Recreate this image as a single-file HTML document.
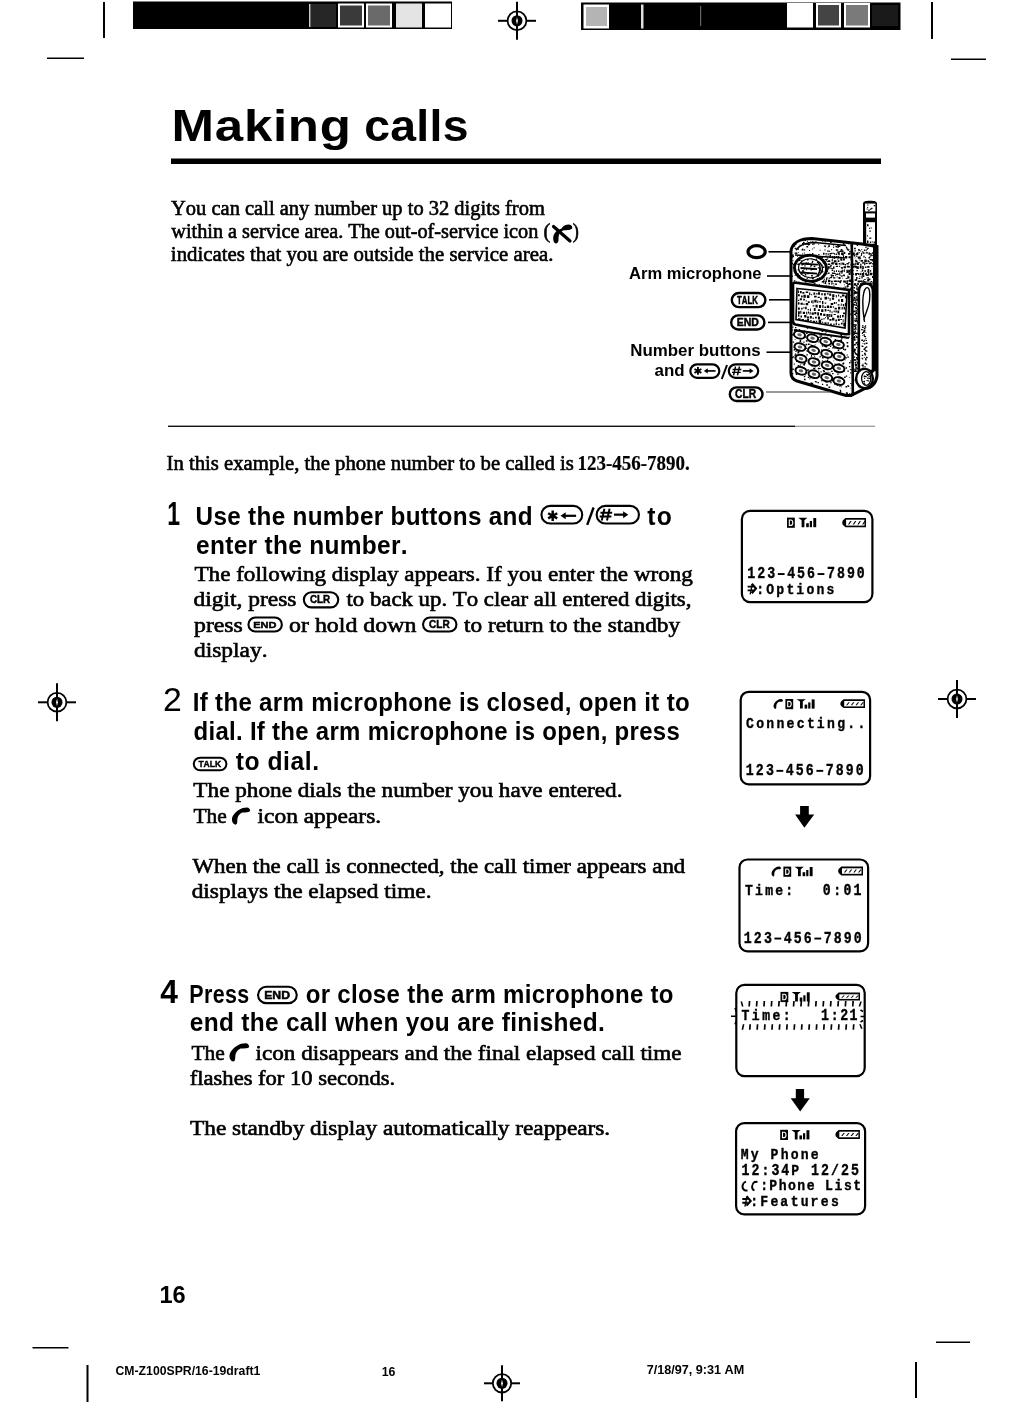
<!DOCTYPE html>
<html><head><meta charset="utf-8"><style>
html,body{margin:0;padding:0;background:#fff;}
svg{display:block;font-kerning:none;will-change:transform;}
text{fill:#000;}
</style></head><body>
<svg width="1028" height="1402" viewBox="0 0 1028 1402">
<rect width="1028" height="1402" fill="#fff"/>
<g stroke="#000" fill="none"><line x1="498" y1="20.8" x2="507.5" y2="20.8" stroke-width="2"/><line x1="526.5" y1="20.8" x2="536" y2="20.8" stroke-width="2"/><line x1="517" y1="1.8000000000000007" x2="517" y2="39.8" stroke-width="2"/><circle cx="517" cy="20.8" r="9.4" stroke-width="1.8" fill="none"/><ellipse cx="517" cy="20.8" rx="5.5" ry="5.6" fill="#000" stroke="none"/><path d="M 517 17.2 L 517.9 20.8 L 517 24.400000000000002 L 516.1 20.8 Z" fill="#fff" stroke="none"/></g>
<g stroke="#000" fill="none"><line x1="38" y1="702.3" x2="47.5" y2="702.3" stroke-width="2"/><line x1="66.5" y1="702.3" x2="76" y2="702.3" stroke-width="2"/><line x1="57" y1="683.3" x2="57" y2="721.3" stroke-width="2"/><circle cx="57" cy="702.3" r="9.4" stroke-width="1.8" fill="none"/><ellipse cx="57" cy="702.3" rx="5.5" ry="5.6" fill="#000" stroke="none"/><path d="M 57 698.6999999999999 L 57.9 702.3 L 57 705.9 L 56.1 702.3 Z" fill="#fff" stroke="none"/></g>
<g stroke="#000" fill="none"><line x1="938" y1="699" x2="947.5" y2="699" stroke-width="2"/><line x1="966.5" y1="699" x2="976" y2="699" stroke-width="2"/><line x1="957" y1="680" x2="957" y2="718" stroke-width="2"/><circle cx="957" cy="699" r="9.4" stroke-width="1.8" fill="none"/><ellipse cx="957" cy="699" rx="5.5" ry="5.6" fill="#000" stroke="none"/><path d="M 957 695.4 L 957.9 699 L 957 702.6 L 956.1 699 Z" fill="#fff" stroke="none"/></g>
<g stroke="#000" fill="none"><line x1="484" y1="1383.3" x2="492.7" y2="1383.3" stroke-width="2"/><line x1="511.3" y1="1383.3" x2="520" y2="1383.3" stroke-width="2"/><line x1="502" y1="1365.3" x2="502" y2="1401.3" stroke-width="2"/><circle cx="502" cy="1383.3" r="9.200000000000001" stroke-width="1.8" fill="none"/><ellipse cx="502" cy="1383.3" rx="5.5" ry="5.6" fill="#000" stroke="none"/><path d="M 502 1379.7 L 502.9 1383.3 L 502 1386.8999999999999 L 501.1 1383.3 Z" fill="#fff" stroke="none"/></g>
<g fill="#000">
<rect x="103" y="2" width="2" height="36"/>
<rect x="47" y="57.5" width="37" height="1.5"/>
<rect x="931" y="2" width="2" height="37"/>
<rect x="951" y="58.5" width="35" height="1.5"/>
<rect x="32.5" y="1347" width="36" height="1.5"/>
<rect x="86.5" y="1365" width="2" height="37"/>
<rect x="936" y="1341.5" width="34" height="1.5"/>
<rect x="915" y="1362" width="2" height="36"/>
</g>
<rect x="133" y="1.5" width="319" height="27.5" fill="#000"/>
<rect x="309" y="4" width="1.5" height="23" fill="#ccc"/>
<rect x="311" y="4" width="25" height="23" fill="#262626"/>
<rect x="338" y="3.5" width="26" height="24" fill="#fff"/>
<rect x="340" y="5.5" width="22" height="20" fill="#3a3a3a"/>
<rect x="366" y="3.5" width="26" height="24" fill="#fff"/>
<rect x="368" y="5.5" width="22" height="20" fill="#6a6a6a"/>
<rect x="396" y="3.5" width="26" height="24" fill="#e4e4e4"/>
<rect x="425" y="3.5" width="26" height="24" fill="#fff"/>
<rect x="581" y="2.5" width="319.5" height="27.5" fill="#000"/>
<rect x="583.5" y="4.5" width="25.5" height="24" fill="#fff"/>
<rect x="586" y="7" width="21" height="19" fill="#b4b4b4"/>
<rect x="641" y="4.5" width="2.5" height="24" fill="#ddd"/>
<rect x="700" y="6" width="1.2" height="20" fill="#666"/>
<rect x="787" y="3" width="26" height="24.5" fill="#fff"/>
<rect x="816" y="3" width="25" height="24.5" fill="#fff"/>
<rect x="818" y="5" width="21" height="20.5" fill="#444"/>
<rect x="844" y="3" width="26" height="24.5" fill="#fff"/>
<rect x="846" y="5" width="22" height="20.5" fill="#7a7a7a"/>
<rect x="872" y="5" width="26" height="21" fill="#1a1a1a"/>
<text x="146.66 183.59 208.45 233.32 246.04 273.29" y="141.00" transform="scale(1.17,1)" font-family="Liberation Sans" font-weight="bold" font-size="43.6" >Making</text>
<text x="342.50 367.03 391.56 403.96 416.35" y="141.00" transform="scale(1.0633259440181022,1)" font-family="Liberation Sans" font-weight="bold" font-size="43.6" >calls</text>
<rect x="171" y="158.5" width="710" height="5.5" fill="#000"/>
<text x="171.07" y="214.90" font-family="Liberation Serif" font-weight="normal" font-size="20.5" textLength="373.75" lengthAdjust="spacingAndGlyphs" stroke="#000" stroke-width="0.6">You can call any number up to 32 digits from</text>
<text x="171.28" y="237.80" font-family="Liberation Serif" font-weight="normal" font-size="20.5" textLength="378.87" lengthAdjust="spacingAndGlyphs" stroke="#000" stroke-width="0.6">within a service area. The out-of-service icon (</text>
<text x="572.71" y="237.80" font-family="Liberation Serif" font-weight="normal" font-size="20.5" textLength="6.09" lengthAdjust="spacingAndGlyphs" stroke="#000" stroke-width="0.6">)</text>
<text x="170.86" y="260.70" font-family="Liberation Serif" font-weight="normal" font-size="20.5" textLength="382.51" lengthAdjust="spacingAndGlyphs" stroke="#000" stroke-width="0.6">indicates that you are outside the service area.</text>
<rect x="168" y="425.6" width="627" height="1.4" fill="#111"/>
<rect x="795" y="425.7" width="80" height="1.1" fill="#888"/>
<text x="166.55" y="469.80" font-family="Liberation Serif" font-weight="normal" font-size="20.5" textLength="407.20" lengthAdjust="spacingAndGlyphs" stroke="#000" stroke-width="0.6">In this example, the phone number to be called is</text>
<text x="577.48" y="469.80" font-family="Liberation Serif" font-weight="bold" font-size="20.5" textLength="112.15" lengthAdjust="spacingAndGlyphs" stroke="#000" stroke-width="0.2">123-456-7890.</text>
<text x="167.35" y="525.20" font-family="Liberation Sans" font-weight="bold" font-size="32.5" textLength="12.79" lengthAdjust="spacingAndGlyphs" >1</text>
<text x="202.69 221.20 235.53 249.85 257.16 265.87 281.57 295.90 303.21 318.91 334.62 357.34 373.04 387.37 397.48 404.80 420.50 436.20 444.91 453.61 469.31 485.02 499.34 506.66 520.98 536.69" y="524.70" transform="scale(0.9647192573933167,1)" font-family="Liberation Sans" font-weight="bold" font-size="25.2" >Use the number buttons and</text>
<path d="M 593.6 507.5 L 587.2 524.8" stroke="#000" stroke-width="2.4"/>
<text x="660.41 670.29" y="524.70" transform="scale(0.98,1)" font-family="Liberation Sans" font-weight="bold" font-size="25.2" >to</text>
<text x="201.72 216.05 231.75 240.45 254.77 264.89 272.20 280.90 296.60 310.92 318.23 333.94 349.64 372.35 388.05 402.38 412.49" y="554.30" transform="scale(0.9718494722008425,1)" font-family="Liberation Sans" font-weight="bold" font-size="25.2" >enter the number.</text>
<text x="194.48" y="581.40" font-family="Liberation Serif" font-weight="normal" font-size="20.5" textLength="498.46" lengthAdjust="spacingAndGlyphs" stroke="#000" stroke-width="0.6">The following display appears. If you enter the wrong</text>
<text x="193.55" y="606.20" font-family="Liberation Serif" font-weight="normal" font-size="20.5" textLength="102.89" lengthAdjust="spacingAndGlyphs" stroke="#000" stroke-width="0.6">digit, press</text>
<text x="346.48" y="606.20" font-family="Liberation Serif" font-weight="normal" font-size="20.5" textLength="344.96" lengthAdjust="spacingAndGlyphs" stroke="#000" stroke-width="0.6">to back up. To clear all entered digits,</text>
<text x="194.02" y="632.00" font-family="Liberation Serif" font-weight="normal" font-size="20.5" textLength="48.84" lengthAdjust="spacingAndGlyphs" stroke="#000" stroke-width="0.6">press</text>
<text x="289.09" y="632.00" font-family="Liberation Serif" font-weight="normal" font-size="20.5" textLength="127.27" lengthAdjust="spacingAndGlyphs" stroke="#000" stroke-width="0.6">or hold down</text>
<text x="464.07" y="632.00" font-family="Liberation Serif" font-weight="normal" font-size="20.5" textLength="216.02" lengthAdjust="spacingAndGlyphs" stroke="#000" stroke-width="0.6">to return to the standby</text>
<text x="194.05" y="656.80" font-family="Liberation Serif" font-weight="normal" font-size="20.5" textLength="73.49" lengthAdjust="spacingAndGlyphs" stroke="#000" stroke-width="0.6">display.</text>
<text x="163.00" y="710.60" font-family="Liberation Sans" font-weight="normal" font-size="32.5" textLength="18.80" lengthAdjust="spacingAndGlyphs" >2</text>
<text x="201.77 209.09 217.79 225.11 233.81 249.52 263.85 271.17 285.49 295.62 318.34 325.65 348.37 355.69 370.02 380.14 395.85 411.55 427.26 442.97 458.67 473.00 480.32 487.63 501.96 509.28 523.61 530.92 546.63 560.96 575.29 590.99 598.31 605.63 621.33 637.04 651.37 667.08 674.39 681.71 690.41 697.73 706.43" y="710.60" transform="scale(0.955479940251514,1)" font-family="Liberation Sans" font-weight="bold" font-size="25.2" >If the arm microphone is closed, open it to</text>
<text x="203.56 219.27 226.59 240.92 248.23 255.55 262.87 270.19 278.89 286.21 294.92 310.63 324.96 332.27 346.60 356.73 379.45 386.77 409.49 416.80 431.14 441.26 456.97 472.68 488.38 504.09 519.80 534.13 541.45 548.77 563.10 570.41 586.12 601.83 616.16 631.87 639.19 646.50 662.21 672.34 686.67 701.00" y="740.00" transform="scale(0.9506593364224852,1)" font-family="Liberation Sans" font-weight="bold" font-size="25.2" >dial. If the arm microphone is open, press</text>
<text x="240.51 249.44 265.38 272.92 288.86 296.41 310.96 318.51" y="769.90" transform="scale(0.98,1)" font-family="Liberation Sans" font-weight="bold" font-size="25.2" >to dial.</text>
<text x="193.38" y="797.00" font-family="Liberation Serif" font-weight="normal" font-size="20.5" textLength="429.15" lengthAdjust="spacingAndGlyphs" stroke="#000" stroke-width="0.6">The phone dials the number you have entered.</text>
<text x="193.41" y="822.50" font-family="Liberation Serif" font-weight="normal" font-size="20.5" textLength="33.23" lengthAdjust="spacingAndGlyphs" stroke="#000" stroke-width="0.6">The</text>
<text x="257.51" y="822.50" font-family="Liberation Serif" font-weight="normal" font-size="20.5" textLength="123.64" lengthAdjust="spacingAndGlyphs" stroke="#000" stroke-width="0.6">icon appears.</text>
<text x="192.48" y="872.50" font-family="Liberation Serif" font-weight="normal" font-size="20.5" textLength="492.80" lengthAdjust="spacingAndGlyphs" stroke="#000" stroke-width="0.6">When the call is connected, the call timer appears and</text>
<text x="191.66" y="897.50" font-family="Liberation Serif" font-weight="normal" font-size="20.5" textLength="239.88" lengthAdjust="spacingAndGlyphs" stroke="#000" stroke-width="0.6">displays the elapsed time.</text>
<text x="160.22" y="1003.20" font-family="Liberation Sans" font-weight="bold" font-size="32.5" textLength="17.65" lengthAdjust="spacingAndGlyphs" >4</text>
<text x="222.18 239.34 249.50 263.87 278.24" y="1003.20" transform="scale(0.852279357970718,1)" font-family="Liberation Sans" font-weight="bold" font-size="25.2" >Press</text>
<text x="320.55 336.26 346.38 353.69 368.02 375.34 391.05 405.38 419.71 427.02 435.73 451.44 465.77 473.08 487.41 497.53 520.25 527.57 550.29 557.61 571.94 582.06 597.77 613.47 629.18 644.89 660.60 674.93 682.24 690.95" y="1003.20" transform="scale(0.9535568857780864,1)" font-family="Liberation Sans" font-weight="bold" font-size="25.2" >or close the arm microphone to</text>
<text x="195.78 210.11 225.81 241.51 248.82 257.52 273.23 287.55 294.86 309.19 323.51 330.82 338.13 345.44 365.35 381.05 395.38 411.08 418.39 432.72 448.42 464.12 471.43 485.76 495.87 510.20 517.51 526.21 533.52 549.22 556.53 570.86 586.56 600.89 616.59" y="1031.25" transform="scale(0.9696805232837525,1)" font-family="Liberation Sans" font-weight="bold" font-size="25.2" >end the call when you are finished.</text>
<text x="191.41" y="1060.00" font-family="Liberation Serif" font-weight="normal" font-size="20.5" textLength="33.23" lengthAdjust="spacingAndGlyphs" stroke="#000" stroke-width="0.6">The</text>
<text x="255.51" y="1060.00" font-family="Liberation Serif" font-weight="normal" font-size="20.5" textLength="426.09" lengthAdjust="spacingAndGlyphs" stroke="#000" stroke-width="0.6">icon disappears and the final elapsed call time</text>
<text x="189.81" y="1085.00" font-family="Liberation Serif" font-weight="normal" font-size="20.5" textLength="205.43" lengthAdjust="spacingAndGlyphs" stroke="#000" stroke-width="0.6">flashes for 10 seconds.</text>
<text x="190.08" y="1135.00" font-family="Liberation Serif" font-weight="normal" font-size="20.5" textLength="420.05" lengthAdjust="spacingAndGlyphs" stroke="#000" stroke-width="0.6">The standby display automatically reappears.</text>
<g>
<path d="M 553.5 226.5 L 570 241" stroke="#000" stroke-width="3.2" stroke-linecap="round"/>
<path d="M 556 243.5 C 553.5 243 553 240 553.3 237 C 553.8 233 557 230 561.5 228.5 C 563 226 566 224.5 569 224.6 C 571.5 224.8 572.5 226.5 572.2 228.3 C 571 230.2 567 230.3 563.5 230.3 C 560.5 231.5 558.7 234 558.6 237 C 558.5 240 559 242.8 556 243.5 Z" fill="#000"/>
</g>
<defs><clipPath id="cpBody"><path d="M 791 373 L 791 251 C 792 243 800 238.5 812 238.5 L 862 244 L 877 246.5 L 877 376 C 876 384 871 388 865 388.5 L 851 395.5 L 846 395.5 L 797 381 C 792.5 379.5 791 377 791 373 Z"/></clipPath><clipPath id="cpEar"><path d="M 822 250 L 876 250 L 876 287 L 822 284 Z"/></clipPath><clipPath id="cpScr"><path d="M 797 288.5 L 847 293.5 L 845 328 L 796 319.5 Z"/></clipPath></defs>
<path d="M 863 249 L 863 204 C 863 201.5 865 200.8 870 200.8 C 875 200.8 877 201.5 877 204 L 877 249 Z" fill="#000"/>
<rect x="865" y="203.6" width="10.4" height="7.8" fill="#fff"/>
<rect x="866" y="213.4" width="9" height="4.2" fill="#fff"/>
<rect x="866.2" y="222.2" width="8.8" height="21.6" fill="#fff"/>
<path d="M867.0 224.3h1.6v2.0h-1.6zM868.9 227.7h1.1v1.0h-1.1zM870.6 227.5h1.2v1.1h-1.2zM869.4 230.4h1.4v1.4h-1.4zM867.0 235.1h0.8v1.4h-0.8zM869.3 237.5h2.0v1.2h-2.0zM867.0 240.6h1.5v2.5h-1.5zM869.9 241.5h1.2v1.4h-1.2zM871.8 241.3h0.9v1.2h-0.9zM873.7 241.6h1.5v1.8h-1.5zM872.4 243.9h2.5v2.5h-2.5z" fill="#000"/>
<path d="M870.0 208.4h1.4v1.3h-1.4zM867.2 204.6h1.2v1.0h-1.2zM868.3 209.4h1.5v1.3h-1.5zM871.1 207.8h1.4v1.3h-1.4zM867.2 207.1h1.0v0.8h-1.0zM873.7 204.9h1.6v1.4h-1.6zM866.6 208.6h1.1v1.0h-1.1z" fill="#000"/>
<path d="M 791 373 L 791 251 C 792 243 800 238.5 812 238.5 L 862 244 L 877 246.5 L 877 376 C 876 384 871 388 865 388.5 L 851 395.5 L 846 395.5 L 797 381 C 792.5 379.5 791 377 791 373 Z" fill="#fff" stroke="#000" stroke-width="3"/>
<path d="M874.0 239.8h1.5v1.3h-1.5zM804.6 393.8h0.8v0.7h-0.8zM866.6 345.7h1.6v1.4h-1.6zM877.0 275.9h1.1v1.0h-1.1zM851.9 282.3h1.1v0.9h-1.1zM810.7 373.5h1.6v1.4h-1.6zM859.6 273.3h1.7v1.5h-1.7zM835.0 274.6h1.2v1.1h-1.2zM827.1 250.5h1.3v1.2h-1.3zM822.0 328.0h1.7v1.5h-1.7zM846.5 302.0h1.6v1.4h-1.6zM876.6 315.5h1.7v1.5h-1.7zM792.6 260.2h1.0v0.8h-1.0zM871.7 347.1h1.5v1.3h-1.5zM815.6 316.2h1.7v1.4h-1.7zM799.6 256.4h0.8v0.7h-0.8zM831.3 370.8h1.3v1.2h-1.3zM825.5 317.3h1.0v0.9h-1.0zM872.5 293.9h1.0v0.9h-1.0zM817.8 368.3h1.1v1.0h-1.1zM868.8 291.1h1.2v1.1h-1.2zM797.4 381.4h1.6v1.4h-1.6zM831.8 256.2h1.3v1.1h-1.3zM823.3 370.7h1.7v1.5h-1.7zM854.7 283.4h0.8v0.7h-0.8zM867.9 387.2h1.0v0.8h-1.0zM834.0 314.0h1.7v1.5h-1.7zM794.7 247.7h1.6v1.4h-1.6zM840.0 311.0h1.5v1.4h-1.5zM842.0 347.4h1.0v0.9h-1.0zM798.3 239.4h1.1v1.0h-1.1zM846.8 298.0h1.1v1.0h-1.1zM844.2 349.4h1.4v1.2h-1.4zM817.8 367.8h1.6v1.4h-1.6zM867.8 379.0h0.8v0.7h-0.8zM848.5 293.0h1.2v1.0h-1.2zM835.6 260.7h1.0v0.9h-1.0zM875.8 290.3h1.7v1.5h-1.7zM849.9 287.7h1.1v1.0h-1.1zM843.0 348.9h1.1v1.0h-1.1zM796.1 265.2h1.6v1.4h-1.6zM853.7 255.1h1.6v1.4h-1.6zM840.5 290.9h1.7v1.5h-1.7zM802.1 253.5h1.1v1.0h-1.1zM854.4 324.5h1.3v1.1h-1.3zM869.0 300.2h1.6v1.4h-1.6zM791.4 361.7h0.9v0.8h-0.9zM847.4 370.5h1.4v1.3h-1.4zM840.8 324.9h1.5v1.3h-1.5zM822.7 274.9h1.3v1.2h-1.3zM835.8 256.4h1.3v1.1h-1.3zM831.2 262.7h1.5v1.3h-1.5zM858.0 291.5h1.6v1.4h-1.6zM875.9 342.6h1.2v1.0h-1.2zM814.4 258.5h1.1v0.9h-1.1zM876.9 247.5h1.7v1.5h-1.7zM851.0 361.9h0.9v0.8h-0.9zM846.6 270.4h1.4v1.3h-1.4zM859.3 352.0h1.3v1.1h-1.3zM867.1 274.2h1.0v0.8h-1.0zM865.4 246.8h1.2v1.1h-1.2zM827.1 376.6h1.2v1.0h-1.2zM840.0 317.2h1.3v1.1h-1.3zM831.7 312.0h1.4v1.2h-1.4zM828.2 304.8h1.7v1.5h-1.7zM875.0 277.0h1.7v1.5h-1.7zM793.0 290.5h1.7v1.5h-1.7zM805.5 343.7h1.8v1.5h-1.8zM843.6 310.6h0.8v0.7h-0.8zM829.8 311.3h1.6v1.4h-1.6zM824.6 365.3h1.2v1.0h-1.2zM845.6 357.9h1.0v0.8h-1.0zM873.0 309.1h1.3v1.1h-1.3zM874.6 328.2h1.3v1.1h-1.3zM809.4 272.8h1.5v1.3h-1.5zM834.5 342.1h1.5v1.3h-1.5zM849.7 289.1h1.6v1.4h-1.6zM829.7 265.8h1.6v1.4h-1.6zM868.5 257.0h1.6v1.4h-1.6zM850.2 280.6h1.4v1.2h-1.4zM870.3 262.0h1.4v1.3h-1.4zM811.7 261.6h1.7v1.5h-1.7zM876.6 341.5h1.6v1.4h-1.6zM825.0 305.7h1.4v1.2h-1.4zM861.0 348.7h1.3v1.1h-1.3zM845.0 301.6h1.6v1.4h-1.6zM865.7 360.2h1.1v1.0h-1.1zM823.8 392.8h1.2v1.0h-1.2zM848.2 253.2h0.9v0.8h-0.9zM810.4 344.3h1.0v0.9h-1.0zM847.5 249.5h1.5v1.3h-1.5zM851.4 278.5h1.0v0.9h-1.0zM812.6 316.0h1.0v0.9h-1.0zM811.2 365.1h1.7v1.5h-1.7zM804.8 320.1h1.4v1.3h-1.4zM872.6 326.4h1.3v1.1h-1.3zM857.4 362.6h1.5v1.3h-1.5zM844.5 366.2h0.8v0.7h-0.8zM857.0 273.1h1.1v1.0h-1.1zM824.9 320.1h1.4v1.2h-1.4zM841.5 288.0h1.1v1.0h-1.1zM847.4 385.1h1.2v1.0h-1.2zM791.7 372.9h1.7v1.4h-1.7zM863.3 338.5h1.2v1.1h-1.2zM796.6 383.5h1.2v1.1h-1.2zM801.5 336.7h0.8v0.7h-0.8zM824.4 333.3h1.6v1.4h-1.6zM821.9 269.0h1.1v1.0h-1.1zM861.6 252.4h0.9v0.8h-0.9zM820.9 388.4h1.6v1.4h-1.6zM874.2 245.6h1.3v1.1h-1.3zM803.5 330.5h1.6v1.4h-1.6zM832.4 347.0h1.5v1.3h-1.5zM834.6 299.6h1.0v0.9h-1.0zM853.0 393.1h1.7v1.5h-1.7zM870.5 372.0h1.4v1.3h-1.4zM833.6 257.1h1.6v1.4h-1.6zM806.8 385.0h1.6v1.4h-1.6zM815.4 381.2h1.5v1.3h-1.5zM860.8 255.1h1.1v0.9h-1.1zM804.3 386.7h1.0v0.9h-1.0zM829.2 356.9h1.2v1.0h-1.2zM845.3 336.7h1.2v1.0h-1.2zM870.7 343.6h1.5v1.3h-1.5zM853.9 335.9h1.0v0.8h-1.0zM869.7 386.9h0.9v0.8h-0.9zM822.6 267.6h0.9v0.8h-0.9zM840.8 306.5h0.9v0.8h-0.9zM832.4 347.9h0.9v0.8h-0.9zM846.6 342.1h1.6v1.4h-1.6zM876.9 377.2h1.2v1.0h-1.2zM798.1 290.7h1.0v0.8h-1.0zM864.3 295.8h1.3v1.2h-1.3zM853.5 310.8h1.8v1.5h-1.8zM847.7 332.2h1.0v0.8h-1.0zM811.7 346.8h1.2v1.1h-1.2zM840.8 376.9h1.4v1.3h-1.4zM863.0 296.0h0.9v0.8h-0.9zM814.8 381.0h1.0v0.9h-1.0zM801.6 248.9h1.8v1.5h-1.8zM809.0 250.1h1.1v1.0h-1.1zM794.7 353.4h1.5v1.3h-1.5zM827.4 352.6h0.8v0.7h-0.8zM859.5 339.5h1.5v1.3h-1.5zM803.3 388.4h1.7v1.5h-1.7zM832.3 288.5h1.3v1.1h-1.3zM851.9 310.9h1.3v1.2h-1.3zM873.0 350.0h1.2v1.0h-1.2zM869.2 362.5h0.8v0.7h-0.8zM833.4 285.6h1.1v1.0h-1.1zM822.8 370.1h1.4v1.2h-1.4zM812.2 248.6h0.9v0.8h-0.9zM823.3 323.6h1.3v1.1h-1.3zM827.7 321.4h1.1v1.0h-1.1zM872.8 272.7h1.2v1.0h-1.2zM847.6 370.5h1.2v1.0h-1.2zM845.6 278.1h0.8v0.7h-0.8zM874.3 248.7h1.5v1.3h-1.5zM793.7 285.3h1.3v1.1h-1.3zM868.3 365.0h1.1v1.0h-1.1zM791.7 357.0h1.5v1.3h-1.5zM871.2 259.0h1.4v1.3h-1.4zM844.1 376.6h1.6v1.4h-1.6zM857.0 372.3h0.9v0.8h-0.9zM875.9 333.4h1.7v1.5h-1.7zM803.9 319.6h1.7v1.4h-1.7zM874.1 334.6h1.7v1.5h-1.7zM793.0 254.5h1.0v0.9h-1.0zM866.2 350.7h1.2v1.1h-1.2zM869.7 319.4h0.9v0.8h-0.9zM872.0 354.7h1.8v1.5h-1.8zM858.2 317.7h1.7v1.5h-1.7zM802.4 239.2h1.1v0.9h-1.1zM872.8 251.9h1.5v1.3h-1.5zM837.3 258.8h1.0v0.9h-1.0zM852.8 299.4h1.6v1.4h-1.6zM795.4 328.9h1.6v1.4h-1.6zM811.5 281.8h1.4v1.2h-1.4zM805.9 340.2h1.7v1.5h-1.7zM818.5 264.9h1.6v1.4h-1.6zM795.6 372.6h1.2v1.1h-1.2zM859.7 297.4h1.7v1.5h-1.7zM847.4 332.2h0.9v0.8h-0.9zM840.9 275.4h1.5v1.3h-1.5zM818.4 274.2h0.9v0.8h-0.9zM812.9 257.7h1.1v0.9h-1.1zM837.2 373.4h1.5v1.4h-1.5zM822.1 384.1h1.1v1.0h-1.1zM827.7 324.2h1.4v1.2h-1.4zM833.4 342.8h1.0v0.9h-1.0zM809.3 291.1h1.2v1.1h-1.2zM812.8 327.8h0.9v0.8h-0.9zM827.4 310.4h1.4v1.2h-1.4zM803.3 341.6h1.2v1.1h-1.2zM870.6 259.8h1.2v1.0h-1.2zM858.3 385.8h1.6v1.4h-1.6zM867.5 307.2h1.0v0.9h-1.0zM813.2 338.4h1.4v1.3h-1.4zM827.5 268.2h1.6v1.4h-1.6zM819.0 275.9h1.6v1.4h-1.6zM857.8 344.1h1.6v1.4h-1.6zM844.3 336.2h1.2v1.0h-1.2zM806.0 385.0h0.9v0.8h-0.9zM857.4 288.2h1.5v1.3h-1.5zM868.3 361.8h0.8v0.7h-0.8zM866.0 274.6h1.1v0.9h-1.1zM875.8 371.1h1.0v0.8h-1.0zM864.2 278.9h1.4v1.2h-1.4zM861.1 249.2h1.0v0.9h-1.0zM801.9 260.6h1.7v1.5h-1.7zM793.7 288.1h1.6v1.4h-1.6zM792.8 310.5h1.6v1.4h-1.6zM869.7 368.0h0.9v0.7h-0.9zM794.5 355.1h1.2v1.1h-1.2zM833.1 345.3h1.6v1.4h-1.6zM814.9 389.6h1.1v1.0h-1.1zM865.9 250.3h0.8v0.7h-0.8zM842.6 356.3h1.4v1.2h-1.4zM796.6 385.2h1.7v1.5h-1.7zM868.7 349.4h0.8v0.7h-0.8zM829.1 267.6h1.0v0.9h-1.0zM832.1 373.0h1.4v1.2h-1.4zM875.2 293.7h0.9v0.8h-0.9zM859.8 377.3h1.3v1.1h-1.3zM811.0 339.1h1.0v0.9h-1.0zM825.4 331.3h1.5v1.3h-1.5zM854.5 253.7h1.2v1.0h-1.2zM835.0 287.1h0.9v0.8h-0.9zM813.4 307.1h1.4v1.2h-1.4zM875.3 270.2h1.3v1.2h-1.3zM809.0 258.8h1.1v0.9h-1.1zM827.5 371.7h1.1v1.0h-1.1zM872.5 361.5h1.2v1.0h-1.2zM866.5 281.1h0.8v0.7h-0.8zM830.4 336.2h1.5v1.3h-1.5zM792.3 240.2h1.5v1.3h-1.5zM870.4 315.6h1.5v1.3h-1.5zM806.1 260.7h1.2v1.1h-1.2zM873.7 256.3h1.3v1.1h-1.3zM850.1 241.6h1.6v1.4h-1.6zM807.7 369.2h1.4v1.2h-1.4zM795.5 271.3h1.2v1.1h-1.2zM795.8 354.6h1.2v1.1h-1.2zM802.2 272.2h1.5v1.3h-1.5zM828.2 321.0h1.0v0.9h-1.0zM814.8 275.2h1.2v1.1h-1.2zM802.9 242.3h1.7v1.5h-1.7zM874.4 244.0h1.7v1.4h-1.7zM816.3 322.6h1.3v1.1h-1.3zM797.8 291.9h1.2v1.1h-1.2zM838.2 323.9h1.1v1.0h-1.1zM835.4 256.7h1.5v1.3h-1.5zM841.7 267.6h1.2v1.1h-1.2zM834.3 316.1h1.0v0.9h-1.0zM832.8 326.2h1.7v1.5h-1.7zM865.2 359.0h1.1v1.0h-1.1zM835.6 289.4h1.4v1.2h-1.4zM858.9 361.8h1.7v1.5h-1.7zM856.8 361.7h1.2v1.1h-1.2zM810.6 297.5h1.3v1.1h-1.3zM832.1 316.7h0.8v0.7h-0.8zM875.3 298.1h1.1v1.0h-1.1zM863.8 299.8h1.5v1.4h-1.5zM799.9 322.0h0.8v0.7h-0.8zM834.4 363.4h1.1v0.9h-1.1zM846.6 354.6h1.2v1.0h-1.2zM806.5 350.3h1.6v1.4h-1.6zM871.7 393.6h1.6v1.4h-1.6zM822.0 357.0h1.6v1.4h-1.6zM829.6 379.4h0.9v0.8h-0.9zM855.1 348.9h1.0v0.9h-1.0zM802.0 345.4h0.9v0.8h-0.9zM817.4 381.9h1.5v1.3h-1.5zM824.4 308.2h1.1v0.9h-1.1zM854.9 326.5h1.4v1.2h-1.4zM811.0 384.6h1.0v0.9h-1.0zM850.7 393.6h1.7v1.4h-1.7zM795.1 323.7h1.5v1.3h-1.5zM829.8 280.4h1.0v0.9h-1.0zM821.8 341.4h1.3v1.2h-1.3zM863.6 281.0h1.4v1.3h-1.4zM874.6 292.1h1.2v1.0h-1.2zM819.6 249.8h1.0v0.9h-1.0zM858.3 287.8h1.0v0.9h-1.0zM862.4 238.7h1.1v1.0h-1.1zM806.4 295.4h0.9v0.8h-0.9zM851.4 281.1h1.4v1.3h-1.4zM802.7 373.0h0.9v0.8h-0.9zM858.5 262.1h1.2v1.1h-1.2zM843.0 252.4h1.3v1.2h-1.3zM845.4 304.2h1.5v1.3h-1.5zM837.2 244.9h1.5v1.3h-1.5zM874.7 261.1h1.0v0.8h-1.0zM841.3 338.1h1.2v1.1h-1.2zM806.3 315.8h1.1v1.0h-1.1zM836.7 384.8h1.2v1.1h-1.2zM876.7 384.9h1.0v0.9h-1.0zM833.9 257.9h0.9v0.8h-0.9zM838.9 245.6h1.5v1.3h-1.5zM851.7 392.7h1.5v1.3h-1.5zM863.2 289.6h1.7v1.5h-1.7zM810.4 382.6h1.7v1.5h-1.7zM855.9 364.0h1.0v0.9h-1.0zM860.6 271.4h1.0v0.9h-1.0zM798.6 365.4h1.5v1.3h-1.5zM828.7 244.8h0.9v0.8h-0.9zM861.0 341.5h1.1v0.9h-1.1zM870.1 325.9h0.8v0.7h-0.8zM876.0 291.5h1.2v1.1h-1.2zM868.0 384.8h1.1v0.9h-1.1zM867.5 279.4h0.8v0.7h-0.8zM797.3 263.5h1.4v1.2h-1.4zM814.1 370.8h1.2v1.0h-1.2zM797.2 316.1h0.9v0.8h-0.9zM791.7 384.4h0.9v0.8h-0.9zM800.8 279.1h0.9v0.8h-0.9zM828.4 343.6h1.2v1.0h-1.2zM838.0 246.1h1.0v0.8h-1.0zM813.7 337.1h1.5v1.3h-1.5zM873.6 312.4h1.0v0.9h-1.0zM821.4 297.9h1.7v1.5h-1.7zM848.9 314.7h1.3v1.1h-1.3zM854.0 349.8h1.7v1.5h-1.7zM834.4 357.5h1.7v1.5h-1.7zM868.8 262.8h1.7v1.5h-1.7zM838.4 380.1h1.7v1.5h-1.7zM864.3 364.0h1.5v1.3h-1.5zM877.0 330.2h1.1v0.9h-1.1zM840.2 333.4h1.6v1.4h-1.6zM844.1 304.6h1.5v1.3h-1.5zM832.3 275.0h1.7v1.5h-1.7zM848.3 332.6h1.6v1.4h-1.6zM838.8 310.8h0.9v0.7h-0.9zM844.8 281.4h1.4v1.2h-1.4zM868.7 349.2h1.5v1.3h-1.5zM799.5 340.7h1.7v1.5h-1.7zM836.8 345.0h1.1v0.9h-1.1zM851.0 278.3h1.3v1.1h-1.3zM857.1 320.9h1.4v1.2h-1.4zM806.8 327.5h1.4v1.2h-1.4zM850.3 269.1h1.3v1.1h-1.3zM835.8 325.4h1.0v0.9h-1.0zM863.8 332.7h1.1v1.0h-1.1zM875.9 335.2h1.1v1.0h-1.1zM826.2 293.7h1.0v0.9h-1.0zM803.8 252.4h0.9v0.8h-0.9zM850.1 294.8h1.2v1.0h-1.2zM824.3 389.1h1.7v1.5h-1.7zM813.6 346.3h1.7v1.5h-1.7zM864.6 314.1h1.6v1.4h-1.6zM809.5 352.1h1.0v0.9h-1.0zM853.4 287.1h1.7v1.5h-1.7zM801.6 289.0h1.0v0.9h-1.0zM833.2 247.3h1.0v0.8h-1.0zM812.1 243.4h1.5v1.3h-1.5zM863.7 390.3h1.2v1.1h-1.2zM822.0 331.1h1.1v1.0h-1.1zM791.9 299.9h1.6v1.4h-1.6zM812.9 281.8h1.1v1.0h-1.1zM861.2 293.8h1.1v1.0h-1.1zM811.6 262.8h1.6v1.4h-1.6zM872.1 365.0h1.3v1.2h-1.3zM817.6 336.7h1.3v1.2h-1.3zM813.1 346.0h1.6v1.4h-1.6zM848.3 291.3h1.7v1.5h-1.7zM868.1 339.2h1.1v1.0h-1.1zM809.4 378.3h1.1v0.9h-1.1zM798.3 281.8h1.6v1.4h-1.6zM861.1 381.0h1.7v1.4h-1.7zM853.1 333.6h1.6v1.4h-1.6zM839.5 391.7h1.1v1.0h-1.1zM794.7 357.4h1.3v1.1h-1.3zM868.8 311.1h1.4v1.2h-1.4zM803.9 305.9h1.0v0.8h-1.0zM792.1 254.4h1.5v1.3h-1.5zM867.1 247.7h1.6v1.4h-1.6zM837.5 310.4h0.8v0.7h-0.8zM876.4 340.2h0.9v0.8h-0.9zM834.1 292.0h1.1v1.0h-1.1zM797.8 389.8h1.2v1.1h-1.2zM801.9 272.2h1.1v1.0h-1.1zM876.7 329.1h1.2v1.0h-1.2zM864.9 239.7h1.4v1.3h-1.4zM795.0 327.0h1.4v1.3h-1.4zM852.0 337.2h1.2v1.1h-1.2zM875.7 366.6h0.9v0.8h-0.9zM791.8 256.8h1.2v1.0h-1.2zM804.3 284.3h0.9v0.7h-0.9zM816.5 271.4h1.0v0.8h-1.0zM868.7 351.0h1.6v1.4h-1.6zM825.8 264.9h1.0v0.8h-1.0zM847.3 275.4h0.9v0.8h-0.9zM824.5 296.9h1.1v0.9h-1.1zM827.1 358.2h1.4v1.3h-1.4zM814.4 301.4h1.7v1.5h-1.7zM874.4 293.4h1.0v0.9h-1.0zM808.4 302.6h1.7v1.5h-1.7zM799.8 324.4h1.5v1.3h-1.5zM795.9 348.3h0.9v0.8h-0.9zM814.5 309.0h1.1v1.0h-1.1zM815.2 262.4h1.2v1.0h-1.2zM866.0 372.4h1.2v1.0h-1.2zM799.8 340.0h1.3v1.1h-1.3zM856.2 316.0h1.1v1.0h-1.1zM797.4 304.5h0.9v0.8h-0.9zM805.1 282.2h1.3v1.1h-1.3zM826.3 303.2h0.9v0.8h-0.9zM803.8 252.7h1.0v0.9h-1.0zM821.3 310.7h1.5v1.3h-1.5zM791.0 275.6h1.8v1.5h-1.8zM843.1 274.6h1.7v1.4h-1.7zM856.3 332.8h1.8v1.5h-1.8zM823.6 318.2h1.0v0.9h-1.0zM862.2 267.7h1.4v1.2h-1.4zM860.2 394.9h1.3v1.2h-1.3zM821.1 276.0h1.2v1.0h-1.2zM799.8 388.8h0.9v0.8h-0.9zM869.5 299.8h0.9v0.8h-0.9zM868.1 391.2h0.9v0.8h-0.9zM871.3 265.8h1.3v1.2h-1.3zM824.5 261.4h1.0v0.9h-1.0zM864.4 326.6h1.3v1.1h-1.3zM805.6 347.8h1.3v1.1h-1.3zM846.7 345.2h1.7v1.5h-1.7zM846.3 337.4h1.1v1.0h-1.1zM804.0 389.2h1.1v1.0h-1.1zM867.8 357.1h0.9v0.8h-0.9zM863.0 272.3h1.2v1.0h-1.2zM806.0 299.7h1.5v1.3h-1.5zM828.5 361.1h1.6v1.4h-1.6zM816.3 354.0h1.2v1.1h-1.2zM874.7 362.3h0.9v0.8h-0.9zM846.8 248.6h1.5v1.3h-1.5zM796.6 263.4h1.6v1.4h-1.6zM837.7 376.0h0.8v0.7h-0.8zM835.4 245.9h1.6v1.4h-1.6zM825.0 281.5h1.2v1.1h-1.2zM798.7 329.1h1.5v1.3h-1.5zM860.5 335.9h1.1v1.0h-1.1zM871.7 387.4h1.5v1.3h-1.5zM866.4 274.6h1.6v1.4h-1.6zM845.7 246.5h1.2v1.0h-1.2zM846.7 394.4h1.7v1.5h-1.7zM876.9 391.9h1.0v0.9h-1.0zM869.2 320.2h1.5v1.3h-1.5zM838.7 315.1h1.0v0.9h-1.0zM871.7 374.7h1.2v1.0h-1.2zM829.3 372.5h1.2v1.1h-1.2zM811.0 265.9h1.0v0.9h-1.0zM853.8 336.3h1.6v1.4h-1.6zM834.1 356.3h1.2v1.1h-1.2zM861.4 342.6h1.5v1.3h-1.5zM867.8 297.2h1.7v1.5h-1.7zM840.7 248.9h1.7v1.5h-1.7zM792.6 356.2h1.6v1.4h-1.6zM832.9 245.0h0.8v0.7h-0.8zM840.3 339.4h1.7v1.5h-1.7zM871.5 310.3h1.6v1.4h-1.6zM831.6 296.5h1.3v1.1h-1.3zM802.9 313.1h1.4v1.2h-1.4zM803.8 249.2h1.4v1.2h-1.4zM876.4 385.2h1.8v1.5h-1.8zM849.1 362.1h1.5v1.3h-1.5zM841.4 323.6h1.3v1.1h-1.3zM855.9 285.1h1.6v1.4h-1.6zM866.0 357.5h1.2v1.0h-1.2zM840.2 288.9h1.3v1.1h-1.3zM797.0 238.6h1.1v0.9h-1.1zM808.8 395.7h1.2v1.1h-1.2zM834.5 378.9h1.3v1.2h-1.3zM801.3 273.2h0.9v0.8h-0.9zM818.2 269.5h1.1v0.9h-1.1zM813.7 364.3h1.6v1.4h-1.6zM855.3 280.3h0.9v0.8h-0.9zM831.9 272.4h1.7v1.5h-1.7zM851.9 310.7h1.7v1.5h-1.7zM803.1 241.8h1.3v1.1h-1.3zM875.3 289.2h1.3v1.1h-1.3zM807.9 305.5h1.4v1.2h-1.4zM791.4 242.7h1.7v1.5h-1.7zM868.9 278.7h1.6v1.4h-1.6zM833.2 247.1h0.9v0.8h-0.9zM804.2 331.6h0.9v0.8h-0.9zM837.9 325.7h1.3v1.1h-1.3zM810.0 265.6h1.1v1.0h-1.1zM834.9 293.0h1.6v1.4h-1.6zM874.3 274.2h1.7v1.5h-1.7zM847.2 322.9h1.1v1.0h-1.1zM875.9 355.3h1.5v1.3h-1.5zM834.2 318.8h1.1v1.0h-1.1zM824.2 345.8h1.5v1.3h-1.5zM801.4 266.1h0.9v0.8h-0.9zM857.9 359.0h1.2v1.1h-1.2zM804.8 385.5h1.3v1.2h-1.3zM867.6 289.4h1.2v1.1h-1.2zM852.8 306.4h0.9v0.7h-0.9zM843.4 244.4h1.5v1.3h-1.5zM834.0 343.7h1.0v0.9h-1.0zM809.4 297.5h1.7v1.5h-1.7zM850.7 266.7h1.1v0.9h-1.1zM839.7 389.8h1.4v1.2h-1.4zM815.0 390.1h1.0v0.9h-1.0zM807.9 276.7h1.5v1.3h-1.5zM860.9 303.7h1.7v1.5h-1.7zM795.2 369.8h1.7v1.5h-1.7zM804.6 277.6h1.0v0.8h-1.0zM819.8 260.1h1.0v0.9h-1.0zM796.0 360.5h1.6v1.4h-1.6zM840.8 351.8h1.4v1.2h-1.4zM839.0 376.6h1.7v1.5h-1.7zM815.8 322.7h1.4v1.2h-1.4zM861.4 389.9h1.0v0.9h-1.0zM819.4 367.9h1.3v1.1h-1.3zM876.7 280.4h1.2v1.0h-1.2zM808.9 310.8h1.4v1.2h-1.4zM821.9 395.4h1.7v1.5h-1.7zM813.9 283.5h0.9v0.8h-0.9zM815.3 372.3h1.0v0.9h-1.0zM851.3 301.0h1.5v1.3h-1.5zM864.2 281.3h1.7v1.5h-1.7zM804.5 256.3h0.9v0.8h-0.9zM867.4 388.5h1.7v1.5h-1.7zM867.2 327.0h1.6v1.4h-1.6zM818.9 314.5h1.6v1.4h-1.6zM860.1 308.7h1.4v1.2h-1.4zM844.6 297.4h1.1v1.0h-1.1zM829.3 251.2h0.9v0.8h-0.9zM875.9 267.1h1.4v1.2h-1.4zM809.0 265.0h1.5v1.3h-1.5zM857.4 350.5h1.1v0.9h-1.1zM797.7 365.0h1.2v1.1h-1.2zM876.2 389.2h1.4v1.2h-1.4zM805.3 391.6h1.7v1.4h-1.7zM808.4 265.1h1.1v0.9h-1.1zM862.7 283.1h1.7v1.5h-1.7zM802.7 363.5h1.2v1.1h-1.2zM824.6 291.1h1.6v1.4h-1.6zM851.4 239.0h1.3v1.2h-1.3zM869.0 278.7h0.9v0.7h-0.9zM865.3 391.2h1.5v1.3h-1.5zM860.0 250.5h1.2v1.1h-1.2zM857.3 320.7h1.7v1.5h-1.7zM807.2 335.4h1.5v1.3h-1.5zM815.8 386.6h1.2v1.0h-1.2zM856.6 300.3h0.9v0.7h-0.9zM863.9 249.6h1.5v1.3h-1.5zM873.8 286.1h1.6v1.4h-1.6zM849.3 376.9h0.9v0.8h-0.9zM826.1 259.8h1.1v1.0h-1.1zM812.1 320.1h1.6v1.4h-1.6zM830.7 274.6h1.7v1.5h-1.7zM863.7 321.2h1.6v1.4h-1.6zM841.4 301.6h1.3v1.1h-1.3zM800.7 395.6h1.1v1.0h-1.1zM855.1 332.6h1.7v1.5h-1.7zM846.9 249.3h0.8v0.7h-0.8zM826.1 263.9h1.1v0.9h-1.1zM862.6 336.4h1.1v0.9h-1.1zM844.6 286.5h1.5v1.3h-1.5zM813.8 368.1h1.5v1.4h-1.5zM824.4 242.7h1.4v1.2h-1.4zM828.5 348.0h1.0v0.9h-1.0zM834.7 355.9h1.4v1.2h-1.4zM850.3 271.6h1.7v1.5h-1.7zM814.8 366.5h1.0v0.9h-1.0zM815.5 392.3h1.3v1.2h-1.3zM814.6 271.4h0.8v0.7h-0.8zM802.6 279.1h1.1v1.0h-1.1zM843.9 395.1h0.8v0.7h-0.8zM816.6 377.3h0.8v0.7h-0.8zM872.7 246.5h1.0v0.8h-1.0zM830.1 276.9h1.5v1.3h-1.5zM854.1 247.7h1.7v1.5h-1.7zM867.9 278.2h1.5v1.3h-1.5zM824.6 282.5h1.6v1.4h-1.6zM873.4 297.6h1.4v1.2h-1.4zM864.9 367.8h1.0v0.9h-1.0zM846.6 286.0h1.0v0.8h-1.0zM828.5 292.4h1.4v1.2h-1.4zM802.9 394.1h1.1v1.0h-1.1zM859.8 258.2h1.3v1.1h-1.3zM852.9 304.5h1.5v1.3h-1.5zM823.7 278.7h1.3v1.1h-1.3zM832.5 380.8h1.0v0.8h-1.0zM848.9 393.3h1.4v1.2h-1.4zM832.8 323.7h1.1v1.0h-1.1zM815.0 285.2h0.8v0.7h-0.8zM868.1 392.6h1.6v1.4h-1.6zM874.6 362.8h1.0v0.9h-1.0zM831.0 326.0h1.4v1.2h-1.4zM839.9 282.1h1.2v1.1h-1.2zM850.8 323.2h1.0v0.9h-1.0zM876.8 243.5h1.6v1.4h-1.6zM795.3 271.4h1.0v0.9h-1.0zM839.5 329.4h1.6v1.4h-1.6zM871.4 313.8h1.3v1.1h-1.3zM806.5 258.8h1.1v1.0h-1.1zM875.4 309.7h0.9v0.8h-0.9zM847.5 271.4h1.4v1.2h-1.4zM834.5 357.4h1.0v0.9h-1.0zM840.7 357.8h1.4v1.2h-1.4zM808.2 279.1h1.0v0.8h-1.0zM792.0 329.5h1.2v1.0h-1.2zM819.6 316.3h1.5v1.3h-1.5zM798.6 372.0h1.6v1.4h-1.6zM818.1 327.9h1.2v1.0h-1.2zM842.0 262.8h1.0v0.9h-1.0zM870.2 253.1h0.9v0.8h-0.9zM798.1 300.8h1.6v1.4h-1.6zM808.8 276.2h1.3v1.1h-1.3zM840.7 298.8h1.7v1.5h-1.7zM810.0 373.6h1.4v1.2h-1.4zM842.8 294.6h1.8v1.5h-1.8zM867.7 271.7h1.4v1.3h-1.4zM817.4 332.9h1.3v1.1h-1.3zM808.3 303.9h1.1v0.9h-1.1zM874.9 346.0h1.2v1.0h-1.2zM825.9 278.4h1.4v1.3h-1.4zM807.2 299.6h1.2v1.1h-1.2zM833.4 360.6h0.8v0.7h-0.8zM817.5 299.9h1.2v1.1h-1.2zM841.9 250.4h1.7v1.5h-1.7zM819.4 356.3h1.3v1.1h-1.3zM833.1 252.8h1.1v0.9h-1.1zM858.1 384.8h1.7v1.5h-1.7zM826.7 261.1h1.1v1.0h-1.1zM803.0 257.8h1.7v1.5h-1.7zM850.5 244.9h1.6v1.4h-1.6zM824.9 265.9h1.4v1.3h-1.4zM821.6 261.5h1.6v1.4h-1.6zM806.5 268.4h1.2v1.1h-1.2zM835.9 301.8h1.7v1.5h-1.7zM795.1 383.7h1.2v1.1h-1.2zM824.7 317.4h0.9v0.8h-0.9zM826.7 294.0h1.3v1.1h-1.3zM823.9 245.5h1.4v1.2h-1.4zM819.1 284.2h0.8v0.7h-0.8zM797.5 277.2h1.2v1.0h-1.2zM810.7 288.9h1.2v1.0h-1.2zM839.3 309.2h1.5v1.3h-1.5zM859.8 382.2h1.6v1.4h-1.6zM872.7 292.6h1.0v0.8h-1.0zM855.9 310.3h1.6v1.4h-1.6zM827.1 351.5h1.4v1.2h-1.4zM852.6 284.8h0.8v0.7h-0.8zM863.1 292.8h1.2v1.1h-1.2zM793.8 363.5h1.2v1.0h-1.2zM792.8 267.1h1.4v1.2h-1.4zM803.3 388.8h1.2v1.1h-1.2zM856.7 343.5h1.0v0.8h-1.0zM810.3 262.6h1.7v1.5h-1.7zM836.5 316.7h1.5v1.3h-1.5zM796.1 350.5h0.9v0.8h-0.9zM839.7 381.6h0.8v0.7h-0.8zM812.2 297.2h1.1v0.9h-1.1zM830.8 345.4h0.9v0.8h-0.9zM813.6 247.3h1.0v0.9h-1.0zM868.9 243.7h1.5v1.3h-1.5zM848.7 326.8h1.2v1.0h-1.2zM868.6 318.2h1.3v1.1h-1.3zM870.3 347.5h1.4v1.2h-1.4zM863.3 358.7h1.1v1.0h-1.1zM863.2 318.9h1.2v1.0h-1.2zM859.3 336.8h1.7v1.5h-1.7zM869.1 390.5h0.8v0.7h-0.8zM831.3 299.0h1.3v1.2h-1.3zM847.4 297.2h1.5v1.3h-1.5zM854.1 359.6h1.3v1.1h-1.3zM820.3 257.2h1.3v1.1h-1.3zM852.9 270.2h1.0v0.8h-1.0zM796.8 314.5h1.4v1.2h-1.4zM859.4 322.6h1.6v1.4h-1.6zM793.8 280.2h1.6v1.4h-1.6zM808.0 291.3h1.0v0.9h-1.0zM876.4 377.4h0.9v0.8h-0.9zM825.9 279.3h1.0v0.9h-1.0zM851.5 252.7h1.7v1.5h-1.7zM812.1 263.5h1.0v0.9h-1.0zM809.4 359.8h1.7v1.4h-1.7zM845.4 297.8h1.2v1.0h-1.2zM817.1 358.4h1.5v1.3h-1.5zM872.2 254.7h1.4v1.2h-1.4zM821.8 240.4h1.4v1.2h-1.4zM850.1 368.9h1.5v1.4h-1.5zM802.8 286.4h1.0v0.9h-1.0zM815.1 241.4h1.6v1.4h-1.6zM847.7 312.9h1.0v0.9h-1.0zM851.9 350.3h1.7v1.5h-1.7zM854.4 368.5h1.2v1.1h-1.2zM829.6 253.0h1.7v1.5h-1.7zM821.9 345.5h1.5v1.3h-1.5zM836.9 251.4h1.6v1.4h-1.6zM821.9 326.9h1.7v1.5h-1.7zM847.7 385.8h1.5v1.3h-1.5zM856.2 288.4h1.4v1.2h-1.4zM809.4 265.3h0.9v0.8h-0.9zM795.7 371.4h1.5v1.3h-1.5zM867.4 301.4h1.0v0.9h-1.0zM832.7 295.9h1.4v1.2h-1.4zM797.8 259.5h1.6v1.4h-1.6zM860.4 320.3h1.4v1.2h-1.4zM840.3 306.9h0.9v0.8h-0.9zM794.0 274.9h0.8v0.7h-0.8zM793.5 322.4h1.0v0.9h-1.0zM871.7 326.2h1.4v1.2h-1.4zM812.1 388.7h1.2v1.1h-1.2zM833.3 318.0h1.1v1.0h-1.1zM827.0 362.6h1.2v1.0h-1.2zM811.9 393.5h1.7v1.5h-1.7zM842.6 240.4h1.4v1.2h-1.4zM824.5 245.6h1.4v1.2h-1.4zM855.6 327.8h1.0v0.8h-1.0zM793.8 304.1h1.2v1.1h-1.2zM858.5 249.8h1.3v1.2h-1.3zM797.1 256.0h0.9v0.8h-0.9zM862.3 375.5h0.9v0.8h-0.9zM874.8 362.3h1.1v1.0h-1.1zM852.4 305.4h0.8v0.7h-0.8zM802.3 301.6h0.9v0.8h-0.9zM802.5 392.6h1.6v1.4h-1.6zM815.3 257.7h1.0v0.8h-1.0zM867.0 362.9h1.1v1.0h-1.1zM796.1 307.0h1.4v1.2h-1.4zM832.4 294.3h1.2v1.1h-1.2zM804.0 283.1h1.5v1.3h-1.5zM830.5 393.6h1.2v1.0h-1.2zM840.4 304.6h0.9v0.8h-0.9zM842.5 254.3h1.6v1.4h-1.6zM819.6 325.1h1.3v1.2h-1.3zM853.8 297.8h1.5v1.3h-1.5zM810.8 356.2h1.3v1.1h-1.3zM846.3 271.6h1.4v1.3h-1.4zM799.5 244.8h1.1v0.9h-1.1zM871.9 372.0h1.2v1.0h-1.2zM845.5 367.3h1.6v1.4h-1.6zM806.4 354.3h1.4v1.2h-1.4zM848.0 242.9h1.6v1.4h-1.6zM866.0 373.8h1.3v1.1h-1.3zM802.5 239.4h1.0v0.9h-1.0zM854.4 240.4h1.5v1.3h-1.5zM858.6 300.6h0.9v0.8h-0.9zM848.2 266.0h1.7v1.5h-1.7zM814.2 370.7h1.7v1.4h-1.7zM808.8 271.0h1.7v1.5h-1.7zM874.7 392.9h1.2v1.1h-1.2zM827.7 289.5h1.3v1.1h-1.3zM837.3 256.4h1.7v1.5h-1.7zM869.6 273.9h1.0v0.9h-1.0zM868.7 308.8h1.7v1.5h-1.7zM876.6 300.1h1.6v1.4h-1.6zM836.3 280.7h1.3v1.2h-1.3zM859.4 351.2h1.7v1.5h-1.7zM815.4 297.7h1.4v1.2h-1.4zM833.0 245.9h0.8v0.7h-0.8zM847.7 286.1h1.0v0.9h-1.0zM872.2 242.2h0.9v0.8h-0.9zM795.6 252.4h1.7v1.5h-1.7zM821.8 278.1h1.2v1.1h-1.2zM843.8 370.9h0.9v0.8h-0.9zM844.1 320.5h1.1v1.0h-1.1zM858.0 332.5h1.1v1.0h-1.1zM848.5 336.5h1.3v1.2h-1.3zM836.2 273.8h1.1v1.0h-1.1zM833.3 378.6h0.8v0.7h-0.8zM818.8 268.7h0.8v0.7h-0.8zM792.7 256.1h1.3v1.2h-1.3zM833.6 262.3h1.2v1.1h-1.2zM823.4 262.8h0.8v0.7h-0.8zM818.2 300.0h1.2v1.1h-1.2zM835.4 280.5h1.3v1.1h-1.3zM842.7 362.5h1.6v1.4h-1.6zM847.9 249.2h1.5v1.3h-1.5zM874.5 347.7h1.3v1.1h-1.3zM818.9 260.5h1.6v1.4h-1.6zM873.9 298.7h1.1v1.0h-1.1zM875.5 355.0h1.6v1.4h-1.6zM852.5 347.3h0.9v0.7h-0.9zM797.7 351.1h1.8v1.5h-1.8zM842.1 369.1h0.8v0.7h-0.8zM831.6 269.4h1.7v1.5h-1.7zM868.2 293.1h1.1v1.0h-1.1zM820.5 355.6h1.1v0.9h-1.1zM795.4 351.1h1.1v1.0h-1.1zM817.0 361.0h1.2v1.1h-1.2zM856.8 344.3h1.2v1.0h-1.2zM828.5 285.6h0.8v0.7h-0.8zM875.3 300.3h1.0v0.8h-1.0zM811.6 290.4h1.4v1.2h-1.4zM807.3 243.4h1.7v1.5h-1.7zM798.6 292.8h1.4v1.2h-1.4zM797.9 252.3h1.0v0.8h-1.0zM826.3 303.7h1.4v1.2h-1.4zM856.6 262.7h1.5v1.3h-1.5zM858.8 352.4h1.0v0.9h-1.0zM840.1 390.8h1.2v1.1h-1.2zM828.5 250.5h1.1v1.0h-1.1zM863.1 282.5h0.9v0.8h-0.9zM821.4 352.7h1.2v1.1h-1.2zM805.5 298.8h1.8v1.5h-1.8zM806.0 243.2h1.7v1.5h-1.7zM830.2 381.9h1.4v1.3h-1.4zM816.9 290.1h1.7v1.5h-1.7zM877.0 351.2h1.0v0.9h-1.0zM821.4 238.7h1.4v1.2h-1.4zM870.7 365.5h1.7v1.5h-1.7zM849.9 313.5h1.2v1.1h-1.2zM801.0 318.4h1.0v0.9h-1.0zM844.5 348.8h1.7v1.5h-1.7zM811.5 281.7h1.2v1.1h-1.2zM859.0 375.0h1.7v1.5h-1.7zM867.7 366.8h1.0v0.9h-1.0zM816.1 395.4h1.7v1.5h-1.7zM838.5 369.8h1.4v1.3h-1.4zM867.7 314.7h1.5v1.3h-1.5zM839.2 394.8h1.4v1.3h-1.4zM846.5 392.7h1.4v1.2h-1.4zM837.6 247.0h1.1v1.0h-1.1zM810.6 345.1h1.7v1.4h-1.7zM793.7 348.9h1.8v1.5h-1.8zM840.5 334.6h1.6v1.4h-1.6zM861.8 357.4h1.3v1.2h-1.3zM851.3 384.6h1.6v1.4h-1.6zM797.4 351.9h1.7v1.5h-1.7zM825.6 238.7h0.9v0.8h-0.9zM813.7 274.2h1.5v1.3h-1.5zM876.7 317.3h0.9v0.8h-0.9zM857.2 354.8h1.4v1.2h-1.4zM872.1 392.8h1.5v1.3h-1.5zM846.4 278.0h1.2v1.1h-1.2zM801.2 318.0h1.4v1.3h-1.4zM830.9 319.3h1.0v0.8h-1.0zM859.3 276.2h1.0v0.9h-1.0zM847.3 356.4h1.6v1.4h-1.6zM798.7 311.7h1.1v0.9h-1.1zM839.0 391.9h1.8v1.5h-1.8zM823.5 393.3h1.3v1.2h-1.3zM849.2 250.9h1.7v1.5h-1.7zM859.8 280.5h1.7v1.5h-1.7zM834.7 339.0h1.5v1.3h-1.5zM830.3 342.8h1.6v1.4h-1.6zM842.2 393.7h1.4v1.2h-1.4zM854.1 291.9h1.5v1.3h-1.5zM804.3 284.9h1.5v1.3h-1.5zM845.5 356.9h1.2v1.1h-1.2zM867.7 367.6h1.2v1.0h-1.2zM816.8 275.0h1.4v1.2h-1.4zM824.4 350.9h1.6v1.4h-1.6zM831.3 252.8h1.4v1.2h-1.4zM818.2 254.1h1.4v1.2h-1.4zM823.7 263.3h1.3v1.1h-1.3zM829.7 363.4h1.0v0.9h-1.0zM868.3 376.4h1.0v0.9h-1.0zM862.9 262.3h1.1v1.0h-1.1zM807.1 369.5h1.2v1.1h-1.2zM862.8 390.8h1.7v1.5h-1.7zM824.2 267.9h1.8v1.5h-1.8zM854.9 292.3h1.6v1.4h-1.6zM865.1 320.4h0.9v0.8h-0.9zM800.7 262.1h1.7v1.5h-1.7zM854.6 257.4h0.9v0.8h-0.9zM829.6 380.4h0.9v0.7h-0.9zM852.9 334.7h0.8v0.7h-0.8zM848.7 280.1h1.2v1.0h-1.2zM839.3 282.0h1.0v0.9h-1.0zM822.2 305.8h1.6v1.4h-1.6zM869.7 312.3h1.5v1.3h-1.5zM859.8 394.7h0.8v0.7h-0.8zM832.2 268.0h1.2v1.1h-1.2zM852.9 254.1h1.4v1.2h-1.4zM863.3 288.8h1.3v1.1h-1.3zM807.1 274.9h1.0v0.9h-1.0zM824.7 289.5h1.7v1.5h-1.7zM818.5 302.4h1.1v1.0h-1.1zM808.6 364.0h0.8v0.7h-0.8zM851.1 279.6h1.6v1.4h-1.6zM838.5 240.6h1.6v1.4h-1.6zM814.0 282.8h1.5v1.3h-1.5zM806.9 240.8h1.1v1.0h-1.1zM826.7 305.0h1.5v1.3h-1.5zM803.7 364.9h1.0v0.9h-1.0zM806.4 246.1h1.7v1.5h-1.7zM842.1 315.5h1.6v1.4h-1.6zM835.5 256.9h1.2v1.0h-1.2zM825.1 307.8h1.0v0.9h-1.0zM865.4 396.0h1.1v1.0h-1.1zM805.1 375.5h0.8v0.7h-0.8zM863.8 321.4h1.5v1.4h-1.5zM875.7 303.3h1.6v1.4h-1.6zM793.6 383.7h1.2v1.1h-1.2zM872.0 304.5h1.6v1.4h-1.6zM808.1 242.0h1.4v1.2h-1.4zM832.1 272.6h1.0v0.9h-1.0zM803.2 244.6h0.9v0.8h-0.9zM857.5 297.8h1.5v1.3h-1.5zM842.9 243.1h1.5v1.3h-1.5zM854.9 242.0h1.6v1.4h-1.6zM855.9 255.5h1.5v1.3h-1.5zM840.0 354.5h1.2v1.0h-1.2zM816.1 311.6h1.5v1.3h-1.5zM849.8 239.4h1.6v1.4h-1.6zM873.5 270.7h1.1v1.0h-1.1zM827.8 272.9h0.9v0.8h-0.9zM811.9 241.3h1.6v1.4h-1.6zM818.0 275.3h1.4v1.2h-1.4zM812.2 336.8h0.8v0.7h-0.8zM836.0 300.0h1.0v0.8h-1.0zM794.6 304.6h0.8v0.7h-0.8zM855.1 266.0h1.8v1.5h-1.8zM794.3 245.3h1.1v0.9h-1.1zM871.2 322.4h1.0v0.9h-1.0zM822.9 339.4h1.0v0.9h-1.0zM870.4 254.9h1.5v1.3h-1.5zM794.9 243.6h1.6v1.4h-1.6zM867.2 293.6h1.6v1.4h-1.6zM805.6 290.9h1.5v1.3h-1.5zM856.4 333.0h1.1v1.0h-1.1zM837.5 287.5h1.2v1.0h-1.2zM856.1 267.4h1.2v1.1h-1.2zM797.4 350.6h1.0v0.9h-1.0zM832.3 273.0h0.9v0.8h-0.9zM832.7 321.5h1.2v1.0h-1.2zM863.6 394.9h1.5v1.3h-1.5zM861.1 331.0h1.4v1.2h-1.4zM812.6 281.7h1.7v1.5h-1.7zM859.3 324.5h1.7v1.5h-1.7zM815.2 394.5h1.4v1.2h-1.4zM867.0 385.8h1.4v1.2h-1.4zM863.5 289.0h1.0v0.9h-1.0zM805.1 299.5h1.7v1.5h-1.7zM852.3 303.4h1.6v1.4h-1.6zM802.2 248.5h1.0v0.9h-1.0zM850.4 264.3h1.3v1.1h-1.3zM799.4 311.2h0.9v0.8h-0.9zM876.0 278.2h0.9v0.8h-0.9zM827.3 306.1h1.3v1.1h-1.3zM815.3 269.5h1.0v0.9h-1.0zM793.9 240.4h1.3v1.1h-1.3zM830.5 288.6h1.3v1.1h-1.3zM850.1 372.3h1.3v1.2h-1.3zM858.8 259.5h1.0v0.9h-1.0zM791.9 255.4h1.3v1.2h-1.3zM867.2 362.9h0.9v0.8h-0.9zM851.8 325.3h1.5v1.3h-1.5zM847.0 328.5h1.2v1.1h-1.2zM839.7 355.6h1.2v1.0h-1.2zM815.8 327.5h1.1v1.0h-1.1zM795.6 345.0h0.9v0.8h-0.9zM832.5 357.4h1.0v0.9h-1.0zM815.8 338.8h1.7v1.5h-1.7zM825.6 284.8h1.1v0.9h-1.1zM846.5 286.2h1.6v1.4h-1.6zM816.2 301.5h1.2v1.0h-1.2zM838.7 363.3h1.1v0.9h-1.1zM812.8 372.7h1.6v1.4h-1.6zM812.3 323.3h1.4v1.3h-1.4zM800.0 383.4h1.0v0.9h-1.0zM853.0 323.9h1.7v1.5h-1.7zM829.9 346.1h1.0v0.8h-1.0zM808.3 244.9h0.9v0.8h-0.9zM825.5 372.0h1.2v1.0h-1.2zM819.0 365.7h1.0v0.9h-1.0zM875.1 331.2h1.3v1.1h-1.3zM867.5 360.9h1.7v1.5h-1.7zM797.6 248.6h1.4v1.2h-1.4zM830.4 264.7h1.4v1.3h-1.4zM823.1 282.4h1.0v0.9h-1.0zM835.3 377.9h1.5v1.3h-1.5zM827.3 335.5h0.8v0.7h-0.8zM808.5 243.7h1.6v1.4h-1.6zM814.7 344.4h1.0v0.9h-1.0zM825.5 345.9h1.7v1.5h-1.7zM846.5 281.3h1.7v1.5h-1.7zM852.7 331.6h1.6v1.4h-1.6zM797.7 380.3h1.2v1.1h-1.2zM826.3 277.3h1.3v1.1h-1.3zM812.1 319.1h1.7v1.4h-1.7zM826.0 361.9h1.1v0.9h-1.1zM804.7 368.8h1.4v1.2h-1.4zM856.1 298.9h1.5v1.3h-1.5zM875.3 353.8h1.1v0.9h-1.1zM842.1 275.4h1.1v0.9h-1.1zM841.7 336.3h1.7v1.5h-1.7zM873.8 243.3h1.5v1.3h-1.5zM838.8 254.5h0.9v0.8h-0.9zM831.8 318.3h1.7v1.5h-1.7zM807.8 376.8h1.5v1.3h-1.5zM817.7 276.2h1.7v1.5h-1.7zM848.3 262.0h1.3v1.2h-1.3zM799.5 330.6h1.1v1.0h-1.1zM798.3 238.0h1.5v1.3h-1.5zM863.4 369.1h1.3v1.2h-1.3zM843.9 284.4h0.9v0.8h-0.9zM871.7 282.4h1.5v1.3h-1.5zM793.2 334.3h1.4v1.2h-1.4zM806.1 263.7h1.2v1.1h-1.2zM793.5 346.7h1.1v1.0h-1.1zM803.3 363.7h1.8v1.5h-1.8zM841.7 250.7h1.3v1.1h-1.3zM814.6 265.9h0.8v0.7h-0.8zM812.1 253.1h1.3v1.1h-1.3zM802.0 243.0h1.0v0.9h-1.0zM861.9 285.2h1.7v1.5h-1.7zM853.8 332.2h1.4v1.3h-1.4zM818.3 303.3h1.1v1.0h-1.1zM828.5 386.6h1.7v1.5h-1.7zM821.6 344.9h0.8v0.7h-0.8zM866.2 318.6h1.3v1.1h-1.3zM842.2 299.2h1.6v1.4h-1.6zM818.0 341.6h0.9v0.8h-0.9zM819.2 336.6h1.6v1.4h-1.6zM819.2 390.7h1.3v1.1h-1.3zM811.9 382.7h1.3v1.2h-1.3zM791.2 334.1h1.7v1.5h-1.7zM839.5 274.7h1.2v1.0h-1.2zM830.1 241.6h1.6v1.4h-1.6zM865.5 375.5h0.9v0.8h-0.9zM826.2 258.8h1.4v1.2h-1.4zM804.1 336.6h1.7v1.5h-1.7zM800.1 364.6h1.1v1.0h-1.1zM822.3 240.2h0.9v0.8h-0.9zM807.8 309.4h1.3v1.1h-1.3zM842.7 314.3h1.2v1.1h-1.2zM795.2 274.8h0.8v0.7h-0.8zM809.2 294.6h1.0v0.9h-1.0zM801.9 238.5h1.1v0.9h-1.1zM862.2 251.2h1.2v1.1h-1.2zM805.1 273.1h1.5v1.3h-1.5zM875.4 311.1h1.6v1.4h-1.6zM867.4 326.6h1.7v1.5h-1.7zM796.1 249.4h1.0v0.8h-1.0zM800.0 303.7h1.6v1.4h-1.6zM853.2 298.9h1.4v1.2h-1.4zM814.1 356.2h1.0v0.8h-1.0zM846.9 345.9h1.6v1.4h-1.6zM842.2 277.7h0.9v0.8h-0.9zM813.4 295.4h0.8v0.7h-0.8zM864.1 264.4h1.0v0.8h-1.0zM875.0 276.9h1.7v1.5h-1.7zM806.0 296.8h0.8v0.7h-0.8zM804.9 313.6h1.8v1.5h-1.8zM799.5 394.8h0.9v0.8h-0.9zM834.3 348.2h1.1v0.9h-1.1zM827.0 360.1h1.1v1.0h-1.1zM797.0 318.6h0.9v0.8h-0.9zM807.8 288.7h1.8v1.5h-1.8zM807.1 369.4h1.5v1.3h-1.5zM796.3 310.1h1.2v1.1h-1.2zM828.1 307.0h1.1v1.0h-1.1zM836.8 249.5h1.5v1.3h-1.5zM875.8 261.8h1.6v1.4h-1.6zM798.7 304.0h1.1v1.0h-1.1zM867.4 271.1h1.3v1.1h-1.3zM831.7 322.1h1.3v1.1h-1.3zM810.0 302.3h1.5v1.3h-1.5zM821.9 383.7h1.2v1.0h-1.2zM867.8 358.5h0.9v0.8h-0.9zM796.2 281.3h0.8v0.7h-0.8zM797.3 239.0h0.9v0.7h-0.9zM834.1 383.5h1.3v1.2h-1.3zM841.9 378.7h1.6v1.4h-1.6zM848.4 272.4h0.8v0.7h-0.8zM837.7 349.5h1.6v1.4h-1.6zM815.4 369.8h1.1v1.0h-1.1zM795.9 311.8h1.7v1.5h-1.7zM830.6 312.8h1.3v1.2h-1.3zM839.9 250.6h1.7v1.5h-1.7zM846.9 317.0h1.0v0.9h-1.0zM868.1 295.5h1.5v1.3h-1.5zM841.1 331.4h1.6v1.4h-1.6zM842.9 347.9h1.0v0.9h-1.0zM858.0 353.9h1.3v1.2h-1.3zM830.0 311.2h1.0v0.9h-1.0zM837.0 346.6h0.9v0.8h-0.9zM797.5 265.8h1.1v1.0h-1.1zM800.2 268.4h1.6v1.4h-1.6zM821.9 360.5h1.3v1.1h-1.3zM803.8 376.1h1.3v1.1h-1.3zM826.0 255.9h1.1v1.0h-1.1zM875.7 242.5h1.7v1.5h-1.7zM865.8 250.3h1.1v0.9h-1.1zM873.0 256.0h0.8v0.7h-0.8zM840.9 393.2h1.6v1.4h-1.6zM849.6 296.8h0.9v0.8h-0.9zM851.9 306.9h1.0v0.9h-1.0zM807.0 307.2h1.1v1.0h-1.1zM855.3 360.5h0.9v0.8h-0.9zM792.8 341.5h1.4v1.2h-1.4zM815.4 316.5h0.9v0.8h-0.9zM824.4 249.5h1.2v1.0h-1.2zM858.8 314.8h1.4v1.3h-1.4zM865.0 315.9h1.7v1.4h-1.7zM871.0 368.8h1.4v1.3h-1.4zM831.4 379.3h1.7v1.5h-1.7zM805.0 368.6h0.9v0.8h-0.9zM866.6 277.6h0.9v0.8h-0.9zM821.5 330.5h1.7v1.5h-1.7zM849.0 366.0h1.3v1.2h-1.3zM835.8 249.3h1.7v1.5h-1.7zM810.2 362.5h1.1v1.0h-1.1zM811.1 355.1h1.0v0.9h-1.0zM863.7 308.8h1.7v1.5h-1.7zM853.4 289.9h1.5v1.3h-1.5zM874.1 283.0h1.5v1.3h-1.5zM836.1 288.2h1.4v1.2h-1.4zM807.1 306.8h1.1v1.0h-1.1zM851.1 270.6h1.2v1.0h-1.2zM870.1 341.2h1.4v1.2h-1.4zM862.6 316.3h1.6v1.4h-1.6zM818.2 370.4h0.9v0.8h-0.9zM828.2 245.5h1.6v1.4h-1.6zM818.6 332.5h0.8v0.7h-0.8zM811.1 336.0h1.6v1.4h-1.6zM830.0 241.4h0.8v0.7h-0.8zM837.6 251.4h1.4v1.2h-1.4zM854.9 381.4h0.9v0.8h-0.9zM864.3 320.6h1.6v1.4h-1.6zM857.3 252.3h1.2v1.1h-1.2zM800.5 323.1h1.6v1.4h-1.6zM839.3 280.8h1.7v1.4h-1.7zM860.8 290.7h0.9v0.8h-0.9zM799.6 323.5h1.2v1.0h-1.2zM824.7 298.5h1.5v1.3h-1.5zM826.2 384.3h1.7v1.5h-1.7zM796.5 359.4h0.8v0.7h-0.8zM820.8 319.0h1.5v1.3h-1.5zM807.0 326.2h1.1v1.0h-1.1zM872.3 302.8h1.0v0.9h-1.0zM794.6 252.5h1.4v1.2h-1.4zM830.6 324.6h1.5v1.3h-1.5zM842.4 363.1h1.6v1.4h-1.6zM866.3 351.3h1.7v1.5h-1.7zM828.4 353.3h1.6v1.4h-1.6zM858.1 249.1h1.6v1.4h-1.6zM854.5 344.3h1.2v1.0h-1.2zM864.2 326.2h1.3v1.1h-1.3zM812.5 320.6h1.5v1.3h-1.5zM811.9 345.0h1.6v1.4h-1.6zM823.8 366.0h1.2v1.1h-1.2zM845.5 386.0h1.7v1.5h-1.7zM860.4 299.6h1.2v1.0h-1.2zM871.2 242.2h1.3v1.2h-1.3zM824.0 364.5h1.7v1.5h-1.7zM868.6 348.8h1.7v1.5h-1.7zM845.9 392.2h1.7v1.5h-1.7zM816.4 319.8h0.8v0.7h-0.8zM802.0 387.2h1.2v1.0h-1.2zM844.8 238.7h1.1v0.9h-1.1zM868.7 290.3h1.1v0.9h-1.1zM815.9 311.8h1.4v1.3h-1.4zM867.2 378.4h1.0v0.8h-1.0zM804.2 274.1h1.2v1.1h-1.2zM794.9 320.5h0.9v0.8h-0.9zM811.5 290.4h1.4v1.2h-1.4zM824.7 240.7h1.3v1.1h-1.3zM818.5 392.8h0.8v0.7h-0.8zM817.9 291.5h0.9v0.8h-0.9zM858.9 240.9h1.7v1.5h-1.7zM842.1 301.6h1.7v1.5h-1.7zM856.7 288.8h1.7v1.5h-1.7zM812.3 340.2h1.6v1.4h-1.6zM862.1 266.0h1.3v1.1h-1.3zM852.1 323.1h0.8v0.7h-0.8zM813.3 243.2h1.5v1.3h-1.5zM817.3 291.8h1.7v1.5h-1.7zM806.1 332.8h1.5v1.3h-1.5zM866.5 248.8h1.2v1.1h-1.2zM848.9 300.9h1.4v1.2h-1.4zM794.5 331.4h1.4v1.3h-1.4zM870.7 316.7h1.4v1.3h-1.4zM819.4 329.8h1.2v1.0h-1.2zM876.8 270.5h1.1v0.9h-1.1zM823.1 253.5h1.2v1.1h-1.2zM852.0 380.6h1.6v1.4h-1.6zM815.8 388.5h1.0v0.9h-1.0zM809.5 390.3h1.1v1.0h-1.1zM844.4 312.5h1.5v1.3h-1.5zM869.8 281.7h1.1v1.0h-1.1zM848.5 297.0h1.1v0.9h-1.1zM821.7 360.8h1.1v1.0h-1.1zM792.4 386.3h1.8v1.5h-1.8zM841.5 345.2h1.2v1.0h-1.2zM868.2 261.0h1.5v1.3h-1.5zM818.1 306.4h1.8v1.5h-1.8zM845.9 375.6h1.3v1.1h-1.3zM841.7 269.8h1.2v1.1h-1.2zM809.6 286.7h1.1v1.0h-1.1zM839.3 385.5h1.3v1.2h-1.3zM827.6 255.4h0.9v0.8h-0.9zM826.6 375.1h1.5v1.3h-1.5zM806.2 256.5h1.6v1.4h-1.6zM846.8 285.0h1.0v0.9h-1.0zM851.8 285.7h1.3v1.1h-1.3zM820.9 349.4h1.4v1.2h-1.4zM873.9 390.1h0.9v0.8h-0.9zM819.2 388.8h1.2v1.0h-1.2zM830.8 370.8h0.8v0.7h-0.8zM869.7 395.0h1.6v1.4h-1.6zM863.3 333.5h1.4v1.2h-1.4zM852.8 345.3h0.9v0.8h-0.9zM794.6 286.0h1.7v1.5h-1.7zM854.4 290.9h1.6v1.4h-1.6zM840.1 256.7h1.7v1.5h-1.7zM831.0 249.2h1.2v1.0h-1.2zM823.8 309.8h1.5v1.3h-1.5zM870.6 367.9h1.1v1.0h-1.1zM875.5 315.1h1.6v1.4h-1.6zM864.1 336.5h1.3v1.2h-1.3zM859.8 256.5h1.0v0.9h-1.0zM874.9 245.4h1.0v0.8h-1.0zM829.6 255.1h1.4v1.3h-1.4zM806.4 307.0h0.9v0.8h-0.9zM840.2 290.1h1.5v1.3h-1.5zM839.5 380.8h1.6v1.4h-1.6zM867.6 362.5h1.3v1.1h-1.3zM835.1 369.4h0.9v0.8h-0.9zM861.6 366.0h1.2v1.0h-1.2zM804.0 362.3h1.7v1.5h-1.7zM874.0 292.1h0.9v0.8h-0.9zM836.6 292.5h0.9v0.8h-0.9zM804.8 243.3h1.8v1.5h-1.8zM812.0 371.3h0.9v0.8h-0.9zM819.3 334.2h1.4v1.2h-1.4zM841.1 386.5h0.9v0.8h-0.9zM840.7 331.9h1.7v1.5h-1.7zM818.2 244.2h0.9v0.8h-0.9zM794.6 339.2h1.0v0.9h-1.0zM844.5 239.6h1.2v1.1h-1.2zM860.4 362.1h0.9v0.8h-0.9zM835.9 327.8h1.5v1.3h-1.5zM827.1 288.6h0.9v0.8h-0.9zM836.2 246.3h1.5v1.3h-1.5zM825.6 380.9h1.7v1.5h-1.7zM851.8 316.9h1.6v1.4h-1.6zM813.1 367.8h1.5v1.3h-1.5zM834.5 371.1h1.0v0.9h-1.0zM872.0 284.4h1.4v1.2h-1.4zM844.5 359.2h1.1v1.0h-1.1zM870.3 304.7h1.5v1.3h-1.5zM857.8 378.2h1.5v1.3h-1.5zM858.8 392.9h1.1v1.0h-1.1zM850.4 387.7h0.9v0.7h-0.9zM864.0 346.4h1.5v1.3h-1.5zM868.1 271.4h1.4v1.3h-1.4zM791.4 262.7h1.7v1.5h-1.7zM843.1 317.1h1.6v1.4h-1.6zM871.4 365.1h1.0v0.9h-1.0zM793.9 386.7h1.3v1.2h-1.3zM852.9 337.0h1.7v1.4h-1.7zM830.6 295.5h1.6v1.4h-1.6zM829.5 366.3h1.6v1.4h-1.6zM851.9 333.0h0.8v0.7h-0.8zM854.6 379.2h1.7v1.5h-1.7zM806.8 298.3h1.5v1.3h-1.5zM857.8 345.8h1.0v0.9h-1.0zM820.5 371.3h1.2v1.1h-1.2zM835.8 318.4h1.8v1.5h-1.8zM873.5 367.5h1.0v0.9h-1.0zM805.2 302.0h1.3v1.2h-1.3zM843.8 275.3h1.2v1.0h-1.2zM860.8 384.3h1.3v1.2h-1.3zM828.4 281.6h1.2v1.0h-1.2zM856.7 244.9h1.4v1.2h-1.4zM856.4 252.8h1.3v1.2h-1.3zM867.0 372.0h1.0v0.9h-1.0zM853.2 265.5h1.6v1.4h-1.6zM856.0 367.1h0.8v0.7h-0.8zM796.2 372.1h1.6v1.4h-1.6zM793.1 263.9h1.5v1.3h-1.5zM813.8 345.5h0.9v0.8h-0.9zM835.3 309.5h1.4v1.2h-1.4zM841.6 301.7h1.3v1.1h-1.3zM852.7 372.6h1.0v0.9h-1.0zM834.1 352.4h1.1v1.0h-1.1zM864.7 241.3h1.5v1.3h-1.5zM848.8 272.5h0.8v0.7h-0.8zM868.7 354.5h1.6v1.4h-1.6zM850.1 360.4h1.3v1.2h-1.3zM870.1 346.9h0.9v0.8h-0.9zM827.6 246.8h0.9v0.8h-0.9zM840.4 328.2h1.3v1.2h-1.3zM847.1 313.5h1.3v1.2h-1.3zM847.3 284.1h1.7v1.4h-1.7zM813.8 263.8h1.1v1.0h-1.1zM795.8 373.5h1.6v1.4h-1.6zM835.3 302.2h1.4v1.3h-1.4zM876.9 339.3h0.9v0.7h-0.9zM810.1 241.4h1.3v1.2h-1.3zM843.4 286.9h0.9v0.8h-0.9zM850.4 258.8h1.1v0.9h-1.1zM850.3 382.9h1.3v1.1h-1.3zM846.0 247.2h1.4v1.2h-1.4zM843.1 270.5h0.8v0.7h-0.8zM808.0 343.6h1.7v1.5h-1.7zM836.6 343.7h0.9v0.8h-0.9zM860.7 296.1h1.0v0.9h-1.0zM796.3 239.6h1.2v1.0h-1.2zM842.1 298.0h1.2v1.0h-1.2zM870.4 292.6h1.6v1.4h-1.6zM867.6 386.4h1.1v0.9h-1.1zM848.1 239.1h1.4v1.2h-1.4zM807.5 322.6h0.8v0.7h-0.8zM862.6 330.4h0.9v0.8h-0.9zM872.0 295.0h0.9v0.8h-0.9zM825.6 356.4h1.5v1.3h-1.5zM814.4 288.2h1.1v1.0h-1.1zM820.6 335.3h1.7v1.5h-1.7zM840.6 259.0h1.6v1.4h-1.6zM803.9 378.7h1.7v1.5h-1.7zM821.2 379.9h1.5v1.3h-1.5zM876.3 271.1h1.1v0.9h-1.1zM802.4 318.4h1.4v1.2h-1.4zM856.0 307.2h0.8v0.7h-0.8zM793.7 245.7h1.3v1.1h-1.3zM872.9 335.0h1.4v1.2h-1.4zM860.4 352.1h1.7v1.5h-1.7zM830.1 299.0h0.9v0.8h-0.9zM822.0 256.8h1.2v1.1h-1.2zM833.8 391.7h1.3v1.1h-1.3zM862.8 275.7h1.5v1.3h-1.5zM865.5 245.3h1.0v0.9h-1.0zM864.9 319.7h1.6v1.4h-1.6zM838.9 251.3h1.1v0.9h-1.1zM801.3 367.9h0.9v0.8h-0.9zM823.5 238.9h0.9v0.8h-0.9zM858.6 360.7h1.4v1.3h-1.4zM823.2 289.8h0.8v0.7h-0.8zM821.8 281.1h1.7v1.5h-1.7zM807.7 287.8h1.2v1.0h-1.2zM815.4 254.8h1.6v1.4h-1.6zM797.5 303.9h1.4v1.2h-1.4zM824.9 240.0h1.3v1.1h-1.3zM805.2 395.8h1.1v0.9h-1.1zM840.1 384.7h1.3v1.1h-1.3zM792.2 326.6h1.2v1.1h-1.2zM825.1 379.7h1.5v1.3h-1.5zM854.4 250.3h1.4v1.3h-1.4zM852.3 306.3h1.5v1.3h-1.5zM853.2 349.9h1.7v1.5h-1.7zM810.8 392.8h1.1v1.0h-1.1zM810.8 339.8h1.5v1.3h-1.5zM805.0 308.2h1.0v0.9h-1.0zM804.6 239.7h1.4v1.3h-1.4zM864.7 308.1h0.9v0.8h-0.9zM861.4 338.5h1.1v1.0h-1.1zM801.4 356.0h1.3v1.2h-1.3zM870.5 393.0h1.3v1.2h-1.3zM818.7 319.5h1.1v0.9h-1.1zM850.9 267.3h1.3v1.2h-1.3zM851.8 373.8h1.3v1.1h-1.3zM870.3 372.3h1.7v1.5h-1.7zM862.5 281.6h1.2v1.0h-1.2zM792.2 368.6h1.6v1.4h-1.6zM817.8 270.1h0.9v0.8h-0.9zM855.2 259.8h1.4v1.2h-1.4zM825.3 342.8h0.9v0.8h-0.9zM825.1 246.6h0.8v0.7h-0.8zM800.9 290.3h1.7v1.5h-1.7zM838.2 316.0h1.7v1.5h-1.7z" fill="#000" clip-path="url(#cpBody)"/>
<path d="M823.0 252.7h1.5v1.8h-1.5zM825.3 253.2h2.0v1.4h-2.0zM827.9 253.6h1.4v1.2h-1.4zM834.1 253.0h0.8v1.8h-0.8zM835.6 253.5h1.4v1.4h-1.4zM837.8 252.2h2.0v2.6h-2.0zM841.1 252.5h2.3v2.4h-2.3zM844.0 252.1h1.3v1.8h-1.3zM848.1 253.0h2.2v1.8h-2.2zM850.8 252.8h1.1v1.4h-1.1zM852.8 252.5h2.0v1.7h-2.0zM856.1 253.0h2.2v2.1h-2.2zM858.8 252.0h1.0v1.2h-1.0zM861.1 253.1h1.0v2.2h-1.0zM862.7 252.3h1.9v1.4h-1.9zM865.6 252.3h2.5v1.2h-2.5zM868.5 252.5h1.6v2.3h-1.6zM870.5 253.2h1.2v2.1h-1.2zM872.2 252.2h1.2v1.7h-1.2zM825.5 255.4h1.2v1.7h-1.2zM827.3 257.7h1.0v1.1h-1.0zM829.3 256.3h1.8v1.8h-1.8zM831.9 256.3h0.9v2.1h-0.9zM833.6 256.1h1.6v2.4h-1.6zM835.9 255.9h1.1v2.2h-1.1zM837.7 256.1h1.6v2.2h-1.6zM840.1 257.5h1.9v1.1h-1.9zM843.0 255.9h1.1v2.6h-1.1zM845.0 256.0h2.3v2.5h-2.3zM848.5 256.3h2.4v1.9h-2.4zM851.8 255.9h1.2v2.0h-1.2zM857.7 256.4h2.6v2.4h-2.6zM863.4 255.7h1.2v1.8h-1.2zM865.1 256.9h0.9v1.3h-0.9zM869.5 255.7h1.0v1.7h-1.0zM872.9 256.0h2.2v2.0h-2.2zM823.0 259.0h0.9v2.7h-0.9zM824.7 258.9h2.5v1.3h-2.5zM828.0 260.3h2.3v1.8h-2.3zM831.7 259.0h1.1v2.5h-1.1zM833.8 260.2h2.5v1.7h-2.5zM837.7 260.2h1.7v1.9h-1.7zM840.4 259.1h1.9v1.5h-1.9zM843.0 258.9h1.9v1.7h-1.9zM851.7 260.0h1.4v2.1h-1.4zM855.3 260.8h2.3v1.4h-2.3zM860.6 260.1h2.5v1.7h-2.5zM864.3 259.5h2.5v2.4h-2.5zM867.4 260.2h1.6v1.5h-1.6zM869.5 259.0h2.1v1.1h-2.1zM872.1 259.1h1.0v2.3h-1.0zM874.0 259.0h1.4v1.0h-1.4zM825.0 262.6h1.3v1.4h-1.3zM827.7 263.6h2.5v1.3h-2.5zM831.6 262.3h2.2v2.1h-2.2zM835.1 262.5h2.4v2.5h-2.4zM838.7 263.0h1.5v1.6h-1.5zM840.7 262.5h0.8v2.7h-0.8zM842.5 262.8h1.8v2.2h-1.8zM844.7 264.0h1.3v1.6h-1.3zM846.5 263.0h2.3v1.5h-2.3zM852.4 263.5h2.3v1.4h-2.3zM855.2 262.7h1.2v2.5h-1.2zM857.0 262.4h1.9v2.5h-1.9zM860.2 263.7h1.3v1.8h-1.3zM862.2 262.3h1.4v1.4h-1.4zM864.1 262.3h1.3v2.4h-1.3zM865.8 262.7h1.9v1.4h-1.9zM868.9 263.0h2.5v1.1h-2.5zM872.2 263.0h2.0v1.6h-2.0zM823.0 267.7h1.0v1.2h-1.0zM825.1 265.8h1.8v2.5h-1.8zM827.5 266.3h2.1v2.0h-2.1zM830.5 267.7h1.3v1.2h-1.3zM833.0 266.4h1.5v2.4h-1.5zM835.8 265.8h2.3v1.1h-2.3zM839.1 265.7h1.1v1.3h-1.1zM840.9 267.1h1.8v1.3h-1.8zM843.5 266.3h2.5v2.0h-2.5zM846.8 265.8h2.1v1.6h-2.1zM851.6 265.9h2.2v2.1h-2.2zM854.3 265.8h1.9v1.9h-1.9zM856.8 266.2h2.0v2.7h-2.0zM859.8 265.8h1.8v2.6h-1.8zM862.4 266.4h1.4v2.4h-1.4zM864.9 266.4h1.6v1.5h-1.6zM867.2 266.0h2.3v1.8h-2.3zM873.4 266.8h2.1v1.4h-2.1zM823.0 270.9h1.7v1.3h-1.7zM825.8 269.4h2.3v2.3h-2.3zM833.8 270.4h1.1v2.0h-1.1zM835.9 270.3h1.1v1.7h-1.1zM838.1 270.6h1.4v1.5h-1.4zM840.3 270.8h2.6v1.5h-2.6zM843.9 269.3h0.9v2.7h-0.9zM846.2 269.8h1.6v1.0h-1.6zM848.2 269.8h2.4v2.4h-2.4zM851.3 270.2h1.8v1.5h-1.8zM856.4 270.1h1.4v1.2h-1.4zM861.8 269.4h1.5v2.2h-1.5zM864.3 270.2h1.8v1.5h-1.8zM867.5 269.1h1.8v2.3h-1.8zM870.1 270.1h1.1v1.7h-1.1zM823.0 273.1h1.3v2.5h-1.3zM824.8 274.0h0.9v1.5h-0.9zM826.3 273.3h1.1v1.2h-1.1zM827.9 272.4h1.8v1.3h-1.8zM833.3 272.9h2.4v1.0h-2.4zM836.6 273.6h2.0v1.4h-2.0zM839.1 272.4h1.1v2.3h-1.1zM840.8 272.4h1.9v1.0h-1.9zM848.6 272.7h2.0v2.3h-2.0zM852.0 273.5h2.1v1.3h-2.1zM855.1 272.9h2.0v2.5h-2.0zM858.1 273.1h1.0v1.8h-1.0zM859.7 273.7h1.1v1.5h-1.1zM861.7 273.0h2.5v2.7h-2.5zM865.2 272.8h1.7v2.5h-1.7zM868.1 273.1h1.2v2.6h-1.2zM870.0 272.8h2.4v2.5h-2.4zM828.6 277.4h1.1v1.6h-1.1zM830.8 276.3h1.3v1.8h-1.3zM833.0 277.2h2.4v1.4h-2.4zM836.7 276.3h0.8v1.4h-0.8zM838.5 277.0h2.0v2.0h-2.0zM847.3 276.2h2.2v2.2h-2.2zM856.1 277.1h1.4v2.1h-1.4zM858.7 277.8h1.6v1.1h-1.6zM861.4 276.0h1.3v2.4h-1.3zM867.5 277.1h1.2v1.0h-1.2zM872.0 276.0h1.3v2.0h-1.3zM874.4 277.9h1.4v1.2h-1.4zM823.0 280.3h1.6v1.9h-1.6zM825.4 280.2h1.4v1.8h-1.4zM828.0 279.7h2.0v2.2h-2.0zM830.9 280.7h1.9v1.8h-1.9zM833.8 280.6h2.6v1.5h-2.6zM837.7 280.6h1.5v1.5h-1.5zM840.2 280.3h1.7v1.1h-1.7zM843.1 280.5h2.6v1.9h-2.6zM846.5 280.2h2.0v1.3h-2.0zM849.2 279.4h2.4v2.7h-2.4zM852.5 280.6h0.9v1.3h-0.9zM854.6 279.2h2.5v1.5h-2.5zM857.6 280.5h2.4v2.1h-2.4zM861.1 280.4h1.6v2.1h-1.6zM863.2 279.7h0.9v1.7h-0.9zM867.2 279.2h2.2v2.2h-2.2zM870.7 281.0h1.7v1.1h-1.7zM873.4 281.6h2.1v1.0h-2.1zM875.9 280.7h1.3v1.0h-1.3zM828.4 283.1h1.6v2.7h-1.6zM831.0 283.2h0.9v2.2h-0.9zM832.4 283.0h1.2v1.6h-1.2zM834.7 283.4h2.3v2.0h-2.3zM845.7 282.7h2.4v1.3h-2.4zM848.6 282.9h2.1v2.0h-2.1zM854.0 283.2h2.3v2.5h-2.3zM857.2 283.1h1.6v1.9h-1.6zM860.0 283.3h2.0v2.0h-2.0zM862.9 283.2h0.9v1.7h-0.9zM864.8 282.9h1.1v1.2h-1.1zM869.4 282.7h2.4v2.4h-2.4zM874.4 283.1h2.0v2.6h-2.0zM823.0 286.0h0.9v1.3h-0.9zM824.8 286.1h2.1v1.4h-2.1zM827.3 286.6h2.1v2.0h-2.1zM835.3 286.8h2.0v1.3h-2.0zM840.9 286.5h2.2v2.3h-2.2zM844.0 286.0h1.2v2.6h-1.2zM846.5 286.6h2.5v1.4h-2.5zM850.4 287.7h2.2v1.7h-2.2zM853.3 287.2h2.0v2.0h-2.0zM856.7 286.5h2.2v1.4h-2.2zM860.1 286.6h1.6v2.5h-1.6zM862.2 286.2h2.0v1.3h-2.0zM865.6 286.7h1.5v2.7h-1.5zM868.1 286.7h1.3v2.7h-1.3zM870.1 288.2h1.4v1.0h-1.4zM873.7 288.3h2.0v1.0h-2.0z" fill="#000" clip-path="url(#cpEar)"/>
<path d="M 851.8 244 L 852.3 300 L 852.8 395" fill="none" stroke="#000" stroke-width="2.6"/>
<path d="M 796 250 C 800 244 806 242.5 815 242.5 L 846 245.5" fill="none" stroke="#000" stroke-width="1.6"/>
<path d="M 795 255 L 845 258" fill="none" stroke="#000" stroke-width="1.3"/>
<rect x="873" y="247" width="3.6" height="124" fill="#000"/>
<path d="M 858.8 371 L 858.8 292 C 858.8 285.5 862 283.5 866 283.5 C 870.5 283.5 873 286 873 292 L 873 371 Z" fill="#fff" stroke="#000" stroke-width="2.6"/>
<path d="M 864.5 322 C 862 308 862 292 866 288 C 869.5 286 870.5 293 869.5 301 C 868.5 309 865 314 863.8 320" fill="none" stroke="#000" stroke-width="1.4"/>
<path d="M861.8 354.7h1.4v1.2h-1.4zM863.4 334.3h1.6v1.4h-1.6zM865.0 347.0h1.3v1.1h-1.3zM862.2 325.1h1.2v1.0h-1.2zM863.9 328.0h1.6v1.4h-1.6zM862.2 335.0h0.8v0.7h-0.8zM866.0 356.8h1.6v1.4h-1.6zM864.1 326.5h1.1v1.0h-1.1zM863.5 330.0h1.7v1.5h-1.7zM862.8 331.7h1.6v1.4h-1.6zM861.6 364.9h1.2v1.1h-1.2zM863.8 339.7h1.3v1.1h-1.3zM861.9 326.6h1.6v1.4h-1.6zM862.2 358.6h1.0v0.9h-1.0zM865.8 363.4h1.5v1.3h-1.5zM864.8 350.0h1.5v1.3h-1.5zM861.6 345.5h1.6v1.4h-1.6zM862.0 364.7h1.7v1.4h-1.7zM863.0 340.7h1.2v1.1h-1.2zM862.9 367.8h1.2v1.0h-1.2zM861.1 329.0h1.5v1.3h-1.5zM866.0 346.3h1.3v1.1h-1.3zM863.8 357.2h1.0v0.9h-1.0zM864.0 348.9h1.4v1.2h-1.4zM861.9 332.3h1.1v1.0h-1.1zM865.6 339.9h1.4v1.2h-1.4zM862.5 329.4h0.9v0.8h-0.9zM865.1 358.4h1.2v1.0h-1.2zM864.4 354.1h1.7v1.5h-1.7zM865.8 342.5h1.7v1.5h-1.7zM865.8 350.4h1.6v1.4h-1.6zM863.5 341.1h1.0v0.9h-1.0zM865.4 332.0h0.9v0.8h-0.9zM865.0 358.3h1.3v1.1h-1.3zM865.2 327.2h1.0v0.9h-1.0zM862.4 343.0h1.0v0.8h-1.0zM861.3 339.5h1.7v1.5h-1.7zM865.9 357.1h1.3v1.1h-1.3zM862.3 366.2h1.3v1.1h-1.3zM864.6 326.2h1.0v0.9h-1.0zM865.2 359.2h1.6v1.4h-1.6zM864.0 343.3h1.4v1.2h-1.4zM865.2 338.2h1.3v1.1h-1.3zM862.4 358.0h0.8v0.7h-0.8zM864.4 366.0h0.8v0.7h-0.8zM864.0 352.7h1.6v1.4h-1.6zM863.9 336.1h1.2v1.0h-1.2zM865.8 363.9h0.9v0.8h-0.9zM861.5 329.0h0.8v0.7h-0.8zM863.2 331.1h1.6v1.4h-1.6zM864.3 330.4h1.3v1.2h-1.3zM862.6 346.2h1.0v0.9h-1.0zM861.8 332.9h1.2v1.0h-1.2zM864.5 348.7h0.8v0.7h-0.8zM864.6 362.6h1.5v1.4h-1.5zM865.0 325.3h1.2v1.1h-1.2zM861.3 357.8h1.0v0.8h-1.0zM864.6 335.9h1.5v1.3h-1.5zM862.6 326.8h1.2v1.0h-1.2zM862.5 363.7h1.1v0.9h-1.1zM863.5 348.6h1.7v1.5h-1.7zM861.5 350.9h1.3v1.1h-1.3zM864.7 366.6h1.1v1.0h-1.1zM864.5 347.6h1.3v1.2h-1.3z" fill="#000"/>
<path d="M856.5 353.5h1.3v1.1h-1.3zM855.8 319.8h1.8v1.5h-1.8zM854.8 298.8h1.1v0.9h-1.1zM854.7 314.2h1.1v0.9h-1.1zM854.0 314.0h1.1v1.0h-1.1zM856.1 303.3h0.9v0.8h-0.9zM854.4 332.7h1.2v1.0h-1.2zM856.8 355.1h1.2v1.0h-1.2zM853.9 348.6h1.5v1.3h-1.5zM855.3 342.6h1.1v1.0h-1.1zM857.6 357.7h1.6v1.4h-1.6zM857.8 306.0h1.3v1.2h-1.3zM856.8 354.9h1.2v1.0h-1.2zM854.1 339.9h0.9v0.8h-0.9zM856.7 286.6h1.2v1.1h-1.2zM855.7 296.3h1.3v1.1h-1.3zM855.8 317.7h1.7v1.5h-1.7zM857.4 362.6h1.0v0.9h-1.0zM853.6 318.4h0.9v0.8h-0.9zM856.7 308.6h0.9v0.8h-0.9zM854.8 320.7h1.5v1.3h-1.5zM855.6 311.9h1.5v1.3h-1.5zM853.7 304.0h1.5v1.3h-1.5zM856.9 294.7h0.9v0.8h-0.9zM855.8 342.5h0.8v0.7h-0.8zM855.5 309.6h0.9v0.8h-0.9zM854.3 310.6h1.2v1.1h-1.2zM854.0 339.3h1.6v1.4h-1.6zM856.6 291.8h1.4v1.2h-1.4zM856.4 286.8h1.2v1.0h-1.2zM856.4 367.7h1.7v1.5h-1.7zM856.1 336.6h1.7v1.5h-1.7zM854.4 329.8h0.9v0.8h-0.9zM857.0 342.2h1.0v0.9h-1.0zM854.4 331.0h1.5v1.3h-1.5zM854.1 313.8h1.3v1.1h-1.3zM854.7 362.1h1.5v1.3h-1.5zM857.8 341.1h1.5v1.3h-1.5zM854.8 329.4h1.2v1.1h-1.2zM855.7 291.4h1.6v1.4h-1.6zM854.2 325.4h1.7v1.5h-1.7zM855.8 360.7h1.1v0.9h-1.1zM855.6 318.6h1.1v1.0h-1.1zM855.2 324.3h1.6v1.4h-1.6zM857.9 294.1h1.4v1.3h-1.4zM855.9 321.5h0.8v0.7h-0.8zM855.1 313.3h1.2v1.0h-1.2zM856.2 317.6h1.1v0.9h-1.1zM854.7 370.0h1.2v1.0h-1.2zM857.9 300.2h1.4v1.3h-1.4zM856.0 347.1h1.3v1.1h-1.3zM857.4 336.5h0.8v0.7h-0.8zM856.6 338.7h1.0v0.9h-1.0zM856.8 357.9h1.1v0.9h-1.1zM854.2 310.9h1.4v1.2h-1.4zM855.5 292.2h1.2v1.1h-1.2zM856.0 335.8h1.1v1.0h-1.1zM857.0 344.2h1.0v0.9h-1.0zM855.1 365.6h1.0v0.9h-1.0zM855.5 312.1h1.4v1.2h-1.4zM857.1 296.6h1.0v0.9h-1.0zM853.8 296.8h1.3v1.1h-1.3zM855.7 367.3h1.2v1.1h-1.2zM855.9 288.3h1.0v0.9h-1.0zM854.9 307.0h1.6v1.4h-1.6zM855.4 297.7h1.3v1.1h-1.3zM854.2 302.0h1.4v1.2h-1.4zM853.9 351.1h1.2v1.1h-1.2zM853.8 344.0h1.7v1.5h-1.7zM856.8 358.4h1.7v1.5h-1.7zM854.7 327.8h1.5v1.3h-1.5zM855.3 369.1h1.2v1.1h-1.2zM853.6 294.2h1.2v1.1h-1.2zM853.6 338.4h1.8v1.5h-1.8zM857.7 370.9h1.0v0.9h-1.0zM854.3 292.1h1.7v1.5h-1.7zM853.6 292.2h1.4v1.3h-1.4zM857.8 331.9h0.9v0.8h-0.9zM853.7 356.5h1.5v1.3h-1.5zM854.9 370.6h1.1v0.9h-1.1zM854.2 369.1h0.9v0.7h-0.9zM855.1 301.5h1.4v1.2h-1.4zM855.7 307.7h1.4v1.2h-1.4zM854.0 370.6h1.6v1.4h-1.6zM854.4 337.3h1.1v0.9h-1.1zM856.1 313.1h1.0v0.9h-1.0zM855.7 292.2h1.8v1.5h-1.8zM857.0 305.6h1.4v1.2h-1.4zM854.3 300.3h1.2v1.0h-1.2zM856.7 291.9h1.7v1.5h-1.7zM854.6 300.1h1.3v1.1h-1.3zM857.6 321.7h1.3v1.2h-1.3zM857.9 331.3h1.1v1.0h-1.1zM854.4 330.9h1.4v1.2h-1.4zM856.2 302.6h0.8v0.7h-0.8zM857.8 345.2h1.6v1.4h-1.6zM857.3 322.6h1.0v0.9h-1.0zM857.8 363.1h0.9v0.8h-0.9zM856.3 329.0h0.8v0.7h-0.8zM856.1 341.9h1.2v1.1h-1.2zM854.6 362.2h1.4v1.3h-1.4zM854.8 352.9h1.7v1.5h-1.7zM855.2 335.3h0.9v0.8h-0.9zM854.1 359.1h1.7v1.5h-1.7zM857.7 298.8h1.5v1.3h-1.5zM855.3 304.5h1.7v1.5h-1.7zM853.9 293.0h1.1v1.0h-1.1zM854.2 320.1h1.4v1.2h-1.4zM855.8 365.2h1.3v1.1h-1.3zM854.2 333.2h0.8v0.7h-0.8zM856.5 299.7h1.3v1.1h-1.3zM855.5 366.0h0.9v0.8h-0.9zM854.8 314.3h1.3v1.1h-1.3zM855.2 370.4h1.7v1.5h-1.7zM857.7 343.6h1.6v1.4h-1.6zM856.0 303.4h1.0v0.8h-1.0zM854.4 352.0h1.4v1.3h-1.4zM853.7 311.1h0.9v0.8h-0.9zM855.9 315.4h1.3v1.1h-1.3zM855.2 320.7h1.2v1.1h-1.2zM857.0 291.9h1.5v1.3h-1.5zM856.1 354.1h0.9v0.8h-0.9zM854.8 364.0h1.7v1.5h-1.7zM854.7 318.4h1.1v1.0h-1.1zM855.0 367.5h1.3v1.1h-1.3zM855.4 363.7h1.4v1.2h-1.4zM857.7 341.9h1.2v1.1h-1.2zM853.9 328.7h1.3v1.1h-1.3zM856.3 358.8h1.2v1.0h-1.2zM856.0 356.9h1.7v1.5h-1.7zM857.2 308.7h1.6v1.4h-1.6zM856.5 313.1h1.3v1.2h-1.3zM857.1 355.5h1.0v0.9h-1.0zM855.7 343.1h1.0v0.8h-1.0zM856.9 353.9h1.4v1.2h-1.4z" fill="#000"/>
<ellipse cx="864.5" cy="378.5" rx="8.4" ry="9.6" fill="#fff" stroke="#000" stroke-width="2.4"/>
<ellipse cx="866.2" cy="378.5" rx="4.6" ry="6.8" fill="#fff" stroke="#000" stroke-width="1.3"/>
<path d="M863.6 380.7h1.4v1.2h-1.4zM868.6 376.0h1.0v0.9h-1.0zM867.4 380.2h1.1v1.0h-1.1zM867.1 377.4h1.5v1.4h-1.5zM863.7 375.5h1.7v1.5h-1.7zM865.1 375.9h1.6v1.4h-1.6zM866.8 374.6h1.3v1.2h-1.3zM867.0 374.8h1.4v1.2h-1.4zM863.7 376.7h0.9v0.8h-0.9zM864.2 383.8h1.2v1.0h-1.2zM868.9 377.8h1.4v1.2h-1.4zM868.2 380.6h0.9v0.8h-0.9zM866.5 380.0h1.0v0.9h-1.0zM863.6 382.6h1.3v1.1h-1.3zM864.2 378.0h1.0v0.9h-1.0zM867.8 378.5h0.9v0.8h-0.9zM867.9 374.0h1.1v0.9h-1.1zM863.2 381.1h0.9v0.8h-0.9zM866.2 374.0h1.3v1.1h-1.3z" fill="#000"/>
<ellipse cx="810.5" cy="268.3" rx="16" ry="13" fill="#fff" stroke="#000" stroke-width="2.8" transform="rotate(6 810.5 268.3)"/>
<ellipse cx="810.5" cy="268.3" rx="12" ry="9.5" fill="none" stroke="#000" stroke-width="1.2" transform="rotate(6 810.5 268.3)"/>
<path d="M 800.5 263.5 L 817 264.7" stroke="#000" stroke-width="1.8"/>
<path d="M 800.5 268 L 817 269.2" stroke="#000" stroke-width="1.8"/>
<path d="M 800.5 272.5 L 817 273.7" stroke="#000" stroke-width="1.8"/>
<path d="M 817 262 C 821 264 821 272 817 276" fill="none" stroke="#000" stroke-width="1.5"/>
<path d="M811.1 274.9h1.7v1.5h-1.7zM804.8 274.1h1.5v1.3h-1.5zM814.9 260.3h0.8v0.7h-0.8zM807.4 273.7h1.0v0.9h-1.0zM810.5 264.7h1.6v1.4h-1.6zM822.5 266.4h1.8v1.5h-1.8zM798.7 275.1h1.6v1.4h-1.6zM801.1 272.8h1.3v1.2h-1.3zM822.8 262.4h1.3v1.2h-1.3zM820.8 271.4h1.1v1.0h-1.1zM799.2 277.7h1.3v1.1h-1.3zM823.9 261.0h1.6v1.4h-1.6zM819.0 277.3h0.8v0.7h-0.8zM807.0 259.1h1.5v1.3h-1.5zM806.6 278.1h1.2v1.0h-1.2zM817.9 276.2h1.0v0.9h-1.0zM812.0 278.1h1.3v1.1h-1.3zM806.7 263.6h1.6v1.4h-1.6zM802.2 270.7h1.3v1.2h-1.3zM811.9 260.7h1.4v1.3h-1.4zM821.7 264.7h1.1v1.0h-1.1zM821.5 270.1h1.1v0.9h-1.1zM797.3 273.8h1.1v1.0h-1.1zM809.6 263.7h1.4v1.2h-1.4zM816.7 264.5h0.9v0.8h-0.9zM823.6 277.1h0.8v0.7h-0.8zM812.2 272.4h1.2v1.0h-1.2zM816.8 278.2h1.4v1.2h-1.4zM807.6 262.1h1.0v0.9h-1.0zM801.1 260.3h1.0v0.9h-1.0zM819.7 269.3h1.6v1.4h-1.6zM821.8 275.0h0.8v0.7h-0.8zM822.0 259.9h1.5v1.3h-1.5zM819.7 271.8h1.2v1.0h-1.2zM799.0 259.8h1.4v1.2h-1.4zM803.5 269.2h1.1v0.9h-1.1zM801.4 264.2h1.5v1.3h-1.5zM810.1 266.2h1.3v1.1h-1.3zM812.0 268.8h1.2v1.1h-1.2zM823.1 273.8h1.0v0.9h-1.0zM805.6 262.0h1.1v1.0h-1.1zM797.8 273.6h1.3v1.2h-1.3zM808.4 276.8h1.1v1.0h-1.1zM812.6 277.5h1.3v1.2h-1.3zM813.6 265.7h1.8v1.5h-1.8zM817.4 264.4h1.1v1.0h-1.1zM813.0 268.9h1.3v1.1h-1.3zM802.2 270.1h1.5v1.3h-1.5zM817.7 267.4h1.2v1.1h-1.2zM810.6 269.3h1.3v1.1h-1.3zM797.3 263.5h1.7v1.5h-1.7zM819.3 267.8h1.5v1.3h-1.5zM802.7 263.6h1.3v1.1h-1.3zM815.9 258.6h1.3v1.1h-1.3zM821.5 270.9h1.8v1.5h-1.8zM799.7 277.1h1.6v1.4h-1.6zM797.7 269.3h1.5v1.3h-1.5zM803.0 271.6h1.6v1.4h-1.6zM818.4 267.0h0.9v0.7h-0.9zM811.6 261.9h1.3v1.2h-1.3zM804.3 265.3h1.3v1.2h-1.3zM819.1 278.5h1.2v1.0h-1.2zM797.2 273.8h1.1v1.0h-1.1zM817.5 275.4h0.8v0.7h-0.8zM816.7 264.0h1.1v1.0h-1.1zM806.0 269.3h1.0v0.9h-1.0zM810.4 263.9h0.9v0.8h-0.9zM803.7 272.3h1.1v1.0h-1.1z" fill="#000"/>
<path d="M 793 284.5 C 793 283 794 282.5 796 282.8 L 849 290 L 849 334 L 845 334.3 L 795.5 324.5 C 793.5 324 793 323 793 321 Z" fill="#fff" stroke="#000" stroke-width="2.6"/>
<path d="M 797 288.5 L 847 293.5 L 845 328 L 796 319.5 Z" fill="#fff" stroke="#000" stroke-width="1.6"/>
<path d="M798.0 290.5h1.1v2.5h-1.1zM800.0 291.1h1.7v2.1h-1.7zM802.4 292.0h2.0v1.7h-2.0zM805.7 291.4h2.5v1.5h-2.5zM809.1 292.4h1.2v2.5h-1.2zM810.9 294.2h1.3v1.0h-1.3zM813.4 292.4h1.8v2.3h-1.8zM816.2 293.1h1.3v1.3h-1.3zM818.0 292.3h2.0v2.4h-2.0zM821.2 293.3h1.6v1.9h-1.6zM823.9 293.2h1.9v2.2h-1.9zM826.9 293.3h1.8v1.2h-1.8zM829.2 293.5h2.0v2.2h-2.0zM832.2 294.2h2.2v2.8h-2.2zM835.8 295.1h1.0v2.5h-1.0zM838.1 294.6h1.1v1.9h-1.1zM840.3 296.1h1.1v1.7h-1.1zM841.9 294.4h2.6v2.2h-2.6zM845.0 295.6h1.1v2.6h-1.1zM798.0 294.2h1.8v2.0h-1.8zM801.0 295.6h1.6v1.9h-1.6zM803.4 294.7h2.4v3.0h-2.4zM806.9 295.3h2.5v2.6h-2.5zM814.1 295.8h2.5v1.6h-2.5zM817.6 296.8h2.2v1.3h-2.2zM820.3 297.8h1.4v2.3h-1.4zM824.5 296.7h2.5v2.8h-2.5zM827.6 297.3h1.2v1.4h-1.2zM829.6 298.1h1.0v2.9h-1.0zM831.9 297.5h2.2v2.2h-2.2zM838.2 299.2h1.5v2.2h-1.5zM841.0 299.0h2.2v2.9h-2.2zM846.0 299.8h1.5v2.7h-1.5zM798.0 299.7h1.2v1.3h-1.2zM799.8 298.2h2.1v2.0h-2.1zM803.2 298.8h1.7v1.6h-1.7zM805.6 300.5h1.3v1.1h-1.3zM807.8 301.3h1.9v1.6h-1.9zM811.0 300.6h0.8v2.5h-0.8zM812.4 300.3h1.1v3.2h-1.1zM814.3 299.7h2.3v2.9h-2.3zM817.3 300.6h1.0v2.5h-1.0zM819.4 300.9h1.4v1.6h-1.4zM822.0 301.1h1.4v3.1h-1.4zM824.7 302.6h1.5v1.1h-1.5zM830.7 303.0h2.5v2.0h-2.5zM833.8 302.0h1.4v1.9h-1.4zM835.8 302.2h1.2v1.4h-1.2zM837.6 304.2h1.9v1.3h-1.9zM840.8 303.4h0.9v2.5h-0.9zM842.8 303.9h1.4v2.3h-1.4zM844.9 302.9h1.3v3.1h-1.3zM798.0 302.2h1.5v2.2h-1.5zM800.5 302.7h2.3v2.1h-2.3zM803.4 303.4h1.1v1.7h-1.1zM805.7 303.1h2.5v2.1h-2.5zM812.6 305.3h1.7v1.2h-1.7zM815.5 304.7h2.2v2.8h-2.2zM819.0 304.9h2.1v3.1h-2.1zM822.3 305.0h1.2v3.1h-1.2zM824.4 306.6h1.8v1.5h-1.8zM826.9 305.6h2.2v2.3h-2.2zM829.8 305.8h2.0v2.2h-2.0zM832.8 306.3h1.1v1.4h-1.1zM834.6 307.8h2.2v1.7h-2.2zM838.0 306.7h2.3v2.8h-2.3zM841.6 307.0h1.2v2.5h-1.2zM843.6 306.8h1.4v2.7h-1.4zM845.5 308.3h1.0v2.4h-1.0zM847.0 306.9h2.4v2.5h-2.4zM798.0 307.5h1.8v2.2h-1.8zM801.1 307.8h1.5v1.7h-1.5zM803.5 307.0h0.9v1.8h-0.9zM805.1 306.8h1.6v2.4h-1.6zM807.6 309.1h1.3v1.1h-1.3zM809.9 308.4h1.0v2.8h-1.0zM813.8 308.0h1.8v3.0h-1.8zM817.9 309.3h2.0v1.7h-2.0zM821.2 309.2h2.2v2.7h-2.2zM824.7 309.1h1.7v2.5h-1.7zM827.5 309.8h1.4v1.1h-1.4zM829.5 309.8h1.1v2.6h-1.1zM831.6 311.2h0.9v2.1h-0.9zM833.6 310.5h1.1v1.8h-1.1zM835.4 310.5h1.4v2.0h-1.4zM837.4 310.6h1.8v2.7h-1.8zM842.9 312.6h2.5v1.7h-2.5zM846.4 311.0h1.7v2.4h-1.7zM798.0 311.3h1.8v2.6h-1.8zM800.3 310.8h1.1v3.0h-1.1zM802.8 311.8h2.2v2.3h-2.2zM806.2 311.7h1.1v2.9h-1.1zM808.0 311.4h1.0v2.1h-1.0zM809.6 312.1h1.0v2.7h-1.0zM811.6 312.4h2.3v2.3h-2.3zM814.3 312.1h2.0v2.2h-2.0zM817.2 312.3h1.8v3.1h-1.8zM820.0 312.9h2.0v2.6h-2.0zM823.2 313.7h2.2v2.3h-2.2zM826.4 314.1h2.3v2.6h-2.3zM829.2 313.9h1.2v3.1h-1.2zM830.9 314.3h1.4v2.8h-1.4zM833.6 314.1h2.2v1.0h-2.2zM837.0 315.5h2.4v2.3h-2.4zM840.1 314.9h0.9v3.2h-0.9zM842.0 314.9h1.7v2.3h-1.7zM844.9 315.7h2.3v1.6h-2.3zM798.0 314.2h1.4v2.5h-1.4zM800.5 315.5h1.5v2.1h-1.5zM804.1 314.9h2.3v2.7h-2.3zM806.9 316.5h2.3v2.0h-2.3zM810.0 315.9h1.8v2.7h-1.8zM812.6 317.5h1.1v1.5h-1.1zM815.0 316.7h1.8v1.8h-1.8zM817.9 316.5h2.1v3.0h-2.1zM820.6 318.8h2.1v1.0h-2.1zM823.5 318.1h1.0v1.4h-1.0zM825.2 317.0h0.8v1.2h-0.8zM827.2 317.1h1.6v2.5h-1.6zM829.4 319.0h2.1v1.8h-2.1zM832.0 317.8h2.4v2.8h-2.4zM835.3 319.5h1.7v1.9h-1.7zM837.8 318.8h2.0v2.1h-2.0zM840.3 319.0h1.7v1.1h-1.7zM842.7 319.2h0.9v3.2h-0.9zM798.0 318.3h2.6v3.1h-2.6zM801.5 318.9h2.5v2.4h-2.5zM804.8 319.7h1.9v1.7h-1.9zM807.1 319.0h2.0v2.9h-2.0zM810.2 320.1h1.4v1.1h-1.4zM812.9 320.8h2.2v1.2h-2.2zM815.9 320.8h1.3v1.5h-1.3zM818.6 320.1h2.6v2.9h-2.6zM822.2 321.8h1.0v1.1h-1.0zM824.5 322.3h2.0v1.8h-2.0zM827.5 322.3h1.3v1.6h-1.3zM830.1 323.5h1.7v1.5h-1.7zM833.1 323.8h1.8v1.0h-1.8zM835.7 322.4h1.2v2.6h-1.2zM838.2 323.7h1.4v1.6h-1.4zM840.9 322.8h1.7v1.6h-1.7zM843.3 323.1h2.3v3.1h-2.3zM847.0 323.9h2.1v2.3h-2.1zM798.0 322.1h0.9v2.4h-0.9zM799.7 323.5h2.2v2.5h-2.2zM802.8 323.4h1.2v1.6h-1.2zM804.9 324.8h1.1v1.6h-1.1zM806.7 323.1h1.3v1.7h-1.3zM808.9 323.9h1.6v2.7h-1.6zM815.0 324.5h0.9v2.9h-0.9zM817.0 324.7h1.7v2.9h-1.7zM819.9 325.9h1.6v1.0h-1.6zM822.5 324.7h2.2v2.5h-2.2zM828.7 325.1h2.1v3.2h-2.1zM831.5 325.8h2.3v1.2h-2.3zM835.1 326.7h2.2v1.6h-2.2zM838.2 327.2h1.6v2.6h-1.6zM840.7 328.4h2.4v1.7h-2.4zM843.8 327.5h2.2v2.0h-2.2zM846.6 326.9h1.6v1.7h-1.6zM798.0 326.4h1.0v1.1h-1.0zM799.6 326.6h1.9v1.9h-1.9zM802.7 327.2h2.1v2.8h-2.1zM805.8 326.8h1.3v2.9h-1.3zM807.7 328.1h2.3v2.8h-2.3zM810.8 329.5h1.5v1.6h-1.5zM813.1 329.1h1.6v1.6h-1.6zM815.7 329.9h1.6v1.1h-1.6zM818.1 329.6h1.2v2.4h-1.2zM820.6 329.6h1.2v1.3h-1.2zM822.3 328.7h2.3v2.9h-2.3zM825.5 329.1h1.4v1.3h-1.4zM827.4 330.4h0.9v1.9h-0.9zM829.0 330.9h1.6v1.6h-1.6zM831.2 330.9h1.1v1.5h-1.1zM833.1 329.5h1.8v1.7h-1.8zM835.5 331.1h1.7v1.2h-1.7zM837.9 331.3h1.4v1.9h-1.4zM840.3 330.4h1.7v2.5h-1.7zM843.2 331.8h1.6v1.7h-1.6zM846.0 332.9h1.5v1.9h-1.5z" fill="#000" clip-path="url(#cpScr)"/>
<path d="M 794 330 L 849 338" stroke="#000" stroke-width="2" fill="none"/>
<ellipse cx="799.5" cy="334.8" rx="5.6" ry="3.7" transform="rotate(14 799.5 334.8)" fill="#fff" stroke="#000" stroke-width="2"/>
<ellipse cx="799.5" cy="334.8" rx="2.3" ry="1.5" transform="rotate(14 799.5 334.8)" fill="#000" opacity="0.6"/>
<ellipse cx="812.6" cy="338.2" rx="5.6" ry="3.7" transform="rotate(14 812.6 338.2)" fill="#fff" stroke="#000" stroke-width="2"/>
<ellipse cx="812.6" cy="338.2" rx="2.3" ry="1.5" transform="rotate(14 812.6 338.2)" fill="#000" opacity="0.6"/>
<ellipse cx="825.7" cy="341.6" rx="5.6" ry="3.7" transform="rotate(14 825.7 341.6)" fill="#fff" stroke="#000" stroke-width="2"/>
<ellipse cx="825.7" cy="341.6" rx="2.3" ry="1.5" transform="rotate(14 825.7 341.6)" fill="#000" opacity="0.6"/>
<ellipse cx="838.4" cy="344.5" rx="5.6" ry="3.7" transform="rotate(14 838.4 344.5)" fill="#fff" stroke="#000" stroke-width="2"/>
<ellipse cx="838.4" cy="344.5" rx="2.3" ry="1.5" transform="rotate(14 838.4 344.5)" fill="#000" opacity="0.6"/>
<ellipse cx="800" cy="347" rx="5.6" ry="3.7" transform="rotate(14 800 347)" fill="#fff" stroke="#000" stroke-width="2"/>
<ellipse cx="800" cy="347" rx="2.3" ry="1.5" transform="rotate(14 800 347)" fill="#000" opacity="0.6"/>
<ellipse cx="813.6" cy="350.4" rx="5.6" ry="3.7" transform="rotate(14 813.6 350.4)" fill="#fff" stroke="#000" stroke-width="2"/>
<ellipse cx="813.6" cy="350.4" rx="2.3" ry="1.5" transform="rotate(14 813.6 350.4)" fill="#000" opacity="0.6"/>
<ellipse cx="826.7" cy="353.8" rx="5.6" ry="3.7" transform="rotate(14 826.7 353.8)" fill="#fff" stroke="#000" stroke-width="2"/>
<ellipse cx="826.7" cy="353.8" rx="2.3" ry="1.5" transform="rotate(14 826.7 353.8)" fill="#000" opacity="0.6"/>
<ellipse cx="839.3" cy="356.5" rx="5.6" ry="3.7" transform="rotate(14 839.3 356.5)" fill="#fff" stroke="#000" stroke-width="2"/>
<ellipse cx="839.3" cy="356.5" rx="2.3" ry="1.5" transform="rotate(14 839.3 356.5)" fill="#000" opacity="0.6"/>
<ellipse cx="801" cy="358.6" rx="5.6" ry="3.7" transform="rotate(14 801 358.6)" fill="#fff" stroke="#000" stroke-width="2"/>
<ellipse cx="801" cy="358.6" rx="2.3" ry="1.5" transform="rotate(14 801 358.6)" fill="#000" opacity="0.6"/>
<ellipse cx="814" cy="362" rx="5.6" ry="3.7" transform="rotate(14 814 362)" fill="#fff" stroke="#000" stroke-width="2"/>
<ellipse cx="814" cy="362" rx="2.3" ry="1.5" transform="rotate(14 814 362)" fill="#000" opacity="0.6"/>
<ellipse cx="827.2" cy="365.4" rx="5.6" ry="3.7" transform="rotate(14 827.2 365.4)" fill="#fff" stroke="#000" stroke-width="2"/>
<ellipse cx="827.2" cy="365.4" rx="2.3" ry="1.5" transform="rotate(14 827.2 365.4)" fill="#000" opacity="0.6"/>
<ellipse cx="838.9" cy="368.4" rx="5.6" ry="3.7" transform="rotate(14 838.9 368.4)" fill="#fff" stroke="#000" stroke-width="2"/>
<ellipse cx="838.9" cy="368.4" rx="2.3" ry="1.5" transform="rotate(14 838.9 368.4)" fill="#000" opacity="0.6"/>
<ellipse cx="801" cy="370.8" rx="5.6" ry="3.7" transform="rotate(14 801 370.8)" fill="#fff" stroke="#000" stroke-width="2"/>
<ellipse cx="801" cy="370.8" rx="2.3" ry="1.5" transform="rotate(14 801 370.8)" fill="#000" opacity="0.6"/>
<ellipse cx="814" cy="374.2" rx="5.6" ry="3.7" transform="rotate(14 814 374.2)" fill="#fff" stroke="#000" stroke-width="2"/>
<ellipse cx="814" cy="374.2" rx="2.3" ry="1.5" transform="rotate(14 814 374.2)" fill="#000" opacity="0.6"/>
<ellipse cx="826.7" cy="377.6" rx="5.6" ry="3.7" transform="rotate(14 826.7 377.6)" fill="#fff" stroke="#000" stroke-width="2"/>
<ellipse cx="826.7" cy="377.6" rx="2.3" ry="1.5" transform="rotate(14 826.7 377.6)" fill="#000" opacity="0.6"/>
<ellipse cx="838.9" cy="381" rx="5.6" ry="3.7" transform="rotate(14 838.9 381)" fill="#fff" stroke="#000" stroke-width="2"/>
<ellipse cx="838.9" cy="381" rx="2.3" ry="1.5" transform="rotate(14 838.9 381)" fill="#000" opacity="0.6"/>
<ellipse cx="756.6" cy="251.7" rx="8.6" ry="6" fill="none" stroke="#000" stroke-width="3.2"/>
<rect x="768.5" y="251" width="23" height="1.6" fill="#000"/>
<text x="628.99" y="279.40" font-family="Liberation Sans" font-weight="bold" font-size="17" textLength="132.58" lengthAdjust="spacingAndGlyphs" >Arm microphone</text>
<rect x="767" y="275.2" width="24" height="1.6" fill="#000"/>
<rect x="731.80" y="293.00" width="33.60" height="14.10" rx="7.05" fill="#fff" stroke="#000" stroke-width="2.4"/><text x="736.91" y="303.70" font-family="Liberation Sans" font-weight="bold" font-size="10.61" textLength="20.96" lengthAdjust="spacingAndGlyphs" stroke="#000" stroke-width="0.45">TALK</text>
<rect x="769" y="299" width="22" height="1.6" fill="#000"/>
<rect x="731.20" y="315.40" width="33.20" height="14.10" rx="7.05" fill="#fff" stroke="#000" stroke-width="2.4"/><text x="736.70" y="325.90" font-family="Liberation Sans" font-weight="bold" font-size="10.03" textLength="22.04" lengthAdjust="spacingAndGlyphs" stroke="#000" stroke-width="0.45">END</text>
<rect x="768" y="321.6" width="23" height="1.6" fill="#000"/>
<text x="630.27" y="356.40" font-family="Liberation Sans" font-weight="bold" font-size="17" textLength="130.42" lengthAdjust="spacingAndGlyphs" >Number buttons</text>
<rect x="766.5" y="351.4" width="24.5" height="1.6" fill="#000"/>
<text x="654.50" y="375.70" font-family="Liberation Sans" font-weight="bold" font-size="17" textLength="30.11" lengthAdjust="spacingAndGlyphs" >and</text>
<rect x="690.30" y="364.40" width="29.00" height="13.40" rx="6.70" fill="#fff" stroke="#000" stroke-width="2.2"/><g transform="translate(694.00,367.00) scale(0.98)"><path d="M 4 0 L 4 8 M 0.5 2 L 7.5 6 M 7.5 2 L 0.5 6" stroke="#000" stroke-width="1.9"/><path d="M 12 4 L 22 4" stroke="#000" stroke-width="1.7"/><path d="M 10 4 L 14 1.3 L 14 6.7 Z" fill="#000"/></g>
<path d="M 727 365 L 721.8 379" stroke="#000" stroke-width="2"/>
<rect x="728.80" y="364.40" width="29.40" height="13.40" rx="6.70" fill="#fff" stroke="#000" stroke-width="2.2"/><g transform="translate(732.00,366.50) scale(0.98)"><path d="M 3.6 0 L 1.6 9 M 7.6 0 L 5.6 9 M 0.6 3 L 9.6 3 M 0 6 L 9 6" stroke="#000" stroke-width="1.5"/><path d="M 11 4.5 L 20 4.5" stroke="#000" stroke-width="1.7"/><path d="M 22 4.5 L 18 1.8 L 18 7.2 Z" fill="#000"/></g>
<rect x="729.80" y="387.40" width="32.70" height="13.60" rx="6.80" fill="#fff" stroke="#000" stroke-width="2.4"/><text x="734.98" y="398.30" font-family="Liberation Sans" font-weight="bold" font-size="11.92" textLength="21.13" lengthAdjust="spacingAndGlyphs" stroke="#000" stroke-width="0.45">CLR</text>
<rect x="766" y="391.4" width="64" height="1.2" fill="#555"/>
<rect x="541.45" y="505.85" width="40.80" height="17.70" rx="8.85" fill="#fff" stroke="#000" stroke-width="2.1"/><g transform="translate(547.50,510.60) scale(1.3)"><path d="M 4 0 L 4 8 M 0.5 2 L 7.5 6 M 7.5 2 L 0.5 6" stroke="#000" stroke-width="1.9"/><path d="M 12 4 L 22 4" stroke="#000" stroke-width="1.7"/><path d="M 10 4 L 14 1.3 L 14 6.7 Z" fill="#000"/></g>
<rect x="596.65" y="505.85" width="42.30" height="17.70" rx="8.85" fill="#fff" stroke="#000" stroke-width="2.1"/><g transform="translate(599.70,508.80) scale(1.3)"><path d="M 3.6 0 L 1.6 9 M 7.6 0 L 5.6 9 M 0.6 3 L 9.6 3 M 0 6 L 9 6" stroke="#000" stroke-width="1.5"/><path d="M 11 4.5 L 20 4.5" stroke="#000" stroke-width="1.7"/><path d="M 22 4.5 L 18 1.8 L 18 7.2 Z" fill="#000"/></g>
<rect x="303.85" y="592.25" width="34.40" height="15.10" rx="7.55" fill="#fff" stroke="#000" stroke-width="2.1"/><text x="309.89" y="603.45" font-family="Liberation Sans" font-weight="bold" font-size="10.61" textLength="20.31" lengthAdjust="spacingAndGlyphs" stroke="#000" stroke-width="0.45">CLR</text>
<rect x="248.45" y="617.45" width="33.40" height="14.00" rx="7.00" fill="#fff" stroke="#000" stroke-width="2.1"/><text x="253.27" y="627.55" font-family="Liberation Sans" font-weight="bold" font-size="9.01" textLength="23.20" lengthAdjust="spacingAndGlyphs" stroke="#000" stroke-width="0.45">END</text>
<rect x="423.05" y="617.45" width="33.40" height="14.00" rx="7.00" fill="#fff" stroke="#000" stroke-width="2.1"/><text x="429.09" y="628.10" font-family="Liberation Sans" font-weight="bold" font-size="10.61" textLength="20.62" lengthAdjust="spacingAndGlyphs" stroke="#000" stroke-width="0.45">CLR</text>
<rect x="193.80" y="757.70" width="32.60" height="12.60" rx="6.30" fill="#fff" stroke="#000" stroke-width="2.0"/><text x="198.40" y="767.30" font-family="Liberation Sans" font-weight="bold" font-size="9.59" textLength="22.67" lengthAdjust="spacingAndGlyphs" stroke="#000" stroke-width="0.45">TALK</text>
<rect x="258.05" y="986.75" width="38.70" height="16.40" rx="8.20" fill="#fff" stroke="#000" stroke-width="2.1"/><text x="264.18" y="998.85" font-family="Liberation Sans" font-weight="bold" font-size="11.34" textLength="25.83" lengthAdjust="spacingAndGlyphs" stroke="#000" stroke-width="0.45">END</text>
<path transform="translate(231.30,807.30) scale(0.945,0.921)" d="M 4.5 19 C 2 18.6 0.4 16 0.7 12.5 C 1.2 8.5 6 3 12 0.8 L 16.5 0.3 C 18.8 0.3 20 2.4 20 4 C 18.8 5.6 15.5 5.5 11.5 5.6 C 8.6 7 6.6 10 6.4 13 C 6.3 15.6 6.6 18.2 4.5 19 Z" fill="#000"/>
<path transform="translate(228.80,1043.00) scale(1.020,0.979)" d="M 4.5 19 C 2 18.6 0.4 16 0.7 12.5 C 1.2 8.5 6 3 12 0.8 L 16.5 0.3 C 18.8 0.3 20 2.4 20 4 C 18.8 5.6 15.5 5.5 11.5 5.6 C 8.6 7 6.6 10 6.4 13 C 6.3 15.6 6.6 18.2 4.5 19 Z" fill="#000"/>
<rect x="741.90" y="510.90" width="130.50" height="91.20" rx="8" fill="#fff" stroke="#000" stroke-width="2.2"/>
<g transform="translate(787.00,517.60)"><rect x="0" y="0" width="7.8" height="10.2" fill="#000"/><path d="M 2.3 2.4 L 4 2.4 C 5.6 2.6 5.8 4 5.8 5.1 C 5.8 6.4 5.5 7.6 4 7.8 L 2.3 7.8 Z" fill="none" stroke="#fff" stroke-width="1.1"/><path d="M 11.2 0.2 L 20.4 0.2 L 17.4 2.6 L 17.4 9.6 L 14.6 9.6 L 14.6 2.6 Z" fill="#000"/><rect x="19.2" y="5.6" width="2.6" height="4.0" fill="#000"/><rect x="22.8" y="3.4" width="2.2" height="6.2" fill="#000"/><rect x="26.3" y="0.4" width="2.9" height="9.2" fill="#000"/></g><g transform="translate(842.00,518.00)"><path d="M 3.5 0 L 24 0 L 24 9.299999999999955 L 3.5 9.299999999999955 L 1 7.099999999999954 C 0 6.2999999999999545 0 3 1 2.2 Z" fill="#000"/><rect x="4.1" y="1.7" width="18.40" height="5.90" fill="#fff"/><path d="M 8.30 2.9 L 9.60 2.9 L 7.30 6.40 L 6.00 6.40 Z" fill="#000"/><path d="M 13.00 2.9 L 14.30 2.9 L 12.00 6.40 L 10.70 6.40 Z" fill="#000"/><path d="M 17.70 2.9 L 19.00 2.9 L 16.70 6.40 L 15.40 6.40 Z" fill="#000"/><path d="M 22.40 2.9 L 23.70 2.9 L 21.40 6.40 L 20.10 6.40 Z" fill="#000"/></g>
<text x="883.75" y="578.4" transform="scale(0.85,1)" text-anchor="middle" font-family="Liberation Mono" font-weight="bold" font-size="15.6" stroke="#000" stroke-width="0.35">1</text><text x="895.63" y="578.4" transform="scale(0.85,1)" text-anchor="middle" font-family="Liberation Mono" font-weight="bold" font-size="15.6" stroke="#000" stroke-width="0.35">2</text><text x="907.39" y="578.4" transform="scale(0.85,1)" text-anchor="middle" font-family="Liberation Mono" font-weight="bold" font-size="15.6" stroke="#000" stroke-width="0.35">3</text><rect x="777.80" y="573.10" width="6.8" height="1.9" fill="#000"/><text x="930.72" y="578.4" transform="scale(0.85,1)" text-anchor="middle" font-family="Liberation Mono" font-weight="bold" font-size="15.6" stroke="#000" stroke-width="0.35">4</text><text x="942.47" y="578.4" transform="scale(0.85,1)" text-anchor="middle" font-family="Liberation Mono" font-weight="bold" font-size="15.6" stroke="#000" stroke-width="0.35">5</text><text x="954.12" y="578.4" transform="scale(0.85,1)" text-anchor="middle" font-family="Liberation Mono" font-weight="bold" font-size="15.6" stroke="#000" stroke-width="0.35">6</text><rect x="817.59" y="573.10" width="6.8" height="1.9" fill="#000"/><text x="977.60" y="578.4" transform="scale(0.85,1)" text-anchor="middle" font-family="Liberation Mono" font-weight="bold" font-size="15.6" stroke="#000" stroke-width="0.35">7</text><text x="989.28" y="578.4" transform="scale(0.85,1)" text-anchor="middle" font-family="Liberation Mono" font-weight="bold" font-size="15.6" stroke="#000" stroke-width="0.35">8</text><text x="1001.02" y="578.4" transform="scale(0.85,1)" text-anchor="middle" font-family="Liberation Mono" font-weight="bold" font-size="15.6" stroke="#000" stroke-width="0.35">9</text><text x="1012.69" y="578.4" transform="scale(0.85,1)" text-anchor="middle" font-family="Liberation Mono" font-weight="bold" font-size="15.6" stroke="#000" stroke-width="0.35">0</text>
<g transform="translate(747.60,594.80)"><path d="M 0 -8.2 H 5.5 M 0 -4.4 H 5.5" stroke="#000" stroke-width="1.9" fill="none"/><path d="M 4.2 -11 L 8.3 -6.3 L 4.2 -1.6" stroke="#000" stroke-width="2.2" fill="none"/><path d="M 4.6 -10.5 L 2.6 -0.5" stroke="#000" stroke-width="1.3" fill="none"/></g>
<text x="800.24" y="594.3" transform="scale(0.95,1)" text-anchor="middle" font-family="Liberation Mono" font-weight="bold" font-size="13.8" stroke="#000" stroke-width="0.35">:</text><text x="810.81" y="594.3" transform="scale(0.95,1)" text-anchor="middle" font-family="Liberation Mono" font-weight="bold" font-size="13.8" stroke="#000" stroke-width="0.35">O</text><text x="821.24" y="594.3" transform="scale(0.95,1)" text-anchor="middle" font-family="Liberation Mono" font-weight="bold" font-size="13.8" stroke="#000" stroke-width="0.35">p</text><text x="832.08" y="594.3" transform="scale(0.95,1)" text-anchor="middle" font-family="Liberation Mono" font-weight="bold" font-size="13.8" stroke="#000" stroke-width="0.35">t</text><text x="842.42" y="594.3" transform="scale(0.95,1)" text-anchor="middle" font-family="Liberation Mono" font-weight="bold" font-size="13.8" stroke="#000" stroke-width="0.35">i</text><text x="853.12" y="594.3" transform="scale(0.95,1)" text-anchor="middle" font-family="Liberation Mono" font-weight="bold" font-size="13.8" stroke="#000" stroke-width="0.35">o</text><text x="863.66" y="594.3" transform="scale(0.95,1)" text-anchor="middle" font-family="Liberation Mono" font-weight="bold" font-size="13.8" stroke="#000" stroke-width="0.35">n</text><text x="874.28" y="594.3" transform="scale(0.95,1)" text-anchor="middle" font-family="Liberation Mono" font-weight="bold" font-size="13.8" stroke="#000" stroke-width="0.35">s</text>
<rect x="740.70" y="691.80" width="129.40" height="92.50" rx="8" fill="#fff" stroke="#000" stroke-width="2.2"/>
<g transform="translate(785.40,699.00)"><rect x="0" y="0" width="7.8" height="10.2" fill="#000"/><path d="M 2.3 2.4 L 4 2.4 C 5.6 2.6 5.8 4 5.8 5.1 C 5.8 6.4 5.5 7.6 4 7.8 L 2.3 7.8 Z" fill="none" stroke="#fff" stroke-width="1.1"/><path d="M 11.2 0.2 L 20.4 0.2 L 17.4 2.6 L 17.4 9.6 L 14.6 9.6 L 14.6 2.6 Z" fill="#000"/><rect x="19.2" y="5.6" width="2.6" height="4.0" fill="#000"/><rect x="22.8" y="3.4" width="2.2" height="6.2" fill="#000"/><rect x="26.3" y="0.4" width="2.9" height="9.2" fill="#000"/><path transform="translate(-12.20,-0.20) scale(0.490,0.537)" d="M 4.5 19 C 2 18.6 0.4 16 0.7 12.5 C 1.2 8.5 6 3 12 0.8 L 16.5 0.3 C 18.8 0.3 20 2.4 20 4 C 18.8 5.6 15.5 5.5 11.5 5.6 C 8.6 7 6.6 10 6.4 13 C 6.3 15.6 6.6 18.2 4.5 19 Z" fill="#000"/></g><g transform="translate(840.10,699.30)"><path d="M 3.5 0 L 24.899999999999977 0 L 24.899999999999977 8.800000000000068 L 3.5 8.800000000000068 L 1 6.600000000000068 C 0 5.800000000000068 0 3 1 2.2 Z" fill="#000"/><rect x="4.1" y="1.7" width="19.30" height="5.40" fill="#fff"/><path d="M 8.30 2.9 L 9.60 2.9 L 7.30 5.90 L 6.00 5.90 Z" fill="#000"/><path d="M 13.00 2.9 L 14.30 2.9 L 12.00 5.90 L 10.70 5.90 Z" fill="#000"/><path d="M 17.70 2.9 L 19.00 2.9 L 16.70 5.90 L 15.40 5.90 Z" fill="#000"/><path d="M 22.40 2.9 L 23.70 2.9 L 21.40 5.90 L 20.10 5.90 Z" fill="#000"/></g>
<text x="789.50" y="728.2" transform="scale(0.95,1)" text-anchor="middle" font-family="Liberation Mono" font-weight="bold" font-size="13.8" stroke="#000" stroke-width="0.35">C</text><text x="800.22" y="728.2" transform="scale(0.95,1)" text-anchor="middle" font-family="Liberation Mono" font-weight="bold" font-size="13.8" stroke="#000" stroke-width="0.35">o</text><text x="810.84" y="728.2" transform="scale(0.95,1)" text-anchor="middle" font-family="Liberation Mono" font-weight="bold" font-size="13.8" stroke="#000" stroke-width="0.35">n</text><text x="821.49" y="728.2" transform="scale(0.95,1)" text-anchor="middle" font-family="Liberation Mono" font-weight="bold" font-size="13.8" stroke="#000" stroke-width="0.35">n</text><text x="832.17" y="728.2" transform="scale(0.95,1)" text-anchor="middle" font-family="Liberation Mono" font-weight="bold" font-size="13.8" stroke="#000" stroke-width="0.35">e</text><text x="842.85" y="728.2" transform="scale(0.95,1)" text-anchor="middle" font-family="Liberation Mono" font-weight="bold" font-size="13.8" stroke="#000" stroke-width="0.35">c</text><text x="853.58" y="728.2" transform="scale(0.95,1)" text-anchor="middle" font-family="Liberation Mono" font-weight="bold" font-size="13.8" stroke="#000" stroke-width="0.35">t</text><text x="863.99" y="728.2" transform="scale(0.95,1)" text-anchor="middle" font-family="Liberation Mono" font-weight="bold" font-size="13.8" stroke="#000" stroke-width="0.35">i</text><text x="874.73" y="728.2" transform="scale(0.95,1)" text-anchor="middle" font-family="Liberation Mono" font-weight="bold" font-size="13.8" stroke="#000" stroke-width="0.35">n</text><text x="885.38" y="728.2" transform="scale(0.95,1)" text-anchor="middle" font-family="Liberation Mono" font-weight="bold" font-size="13.8" stroke="#000" stroke-width="0.35">g</text><text x="896.06" y="728.2" transform="scale(0.95,1)" text-anchor="middle" font-family="Liberation Mono" font-weight="bold" font-size="13.8" stroke="#000" stroke-width="0.35">.</text><text x="906.71" y="728.2" transform="scale(0.95,1)" text-anchor="middle" font-family="Liberation Mono" font-weight="bold" font-size="13.8" stroke="#000" stroke-width="0.35">.</text>
<text x="881.98" y="775.2" transform="scale(0.85,1)" text-anchor="middle" font-family="Liberation Mono" font-weight="bold" font-size="15.6" stroke="#000" stroke-width="0.35">1</text><text x="893.92" y="775.2" transform="scale(0.85,1)" text-anchor="middle" font-family="Liberation Mono" font-weight="bold" font-size="15.6" stroke="#000" stroke-width="0.35">2</text><text x="905.73" y="775.2" transform="scale(0.85,1)" text-anchor="middle" font-family="Liberation Mono" font-weight="bold" font-size="15.6" stroke="#000" stroke-width="0.35">3</text><rect x="776.43" y="769.90" width="6.8" height="1.9" fill="#000"/><text x="929.17" y="775.2" transform="scale(0.85,1)" text-anchor="middle" font-family="Liberation Mono" font-weight="bold" font-size="15.6" stroke="#000" stroke-width="0.35">4</text><text x="940.97" y="775.2" transform="scale(0.85,1)" text-anchor="middle" font-family="Liberation Mono" font-weight="bold" font-size="15.6" stroke="#000" stroke-width="0.35">5</text><text x="952.68" y="775.2" transform="scale(0.85,1)" text-anchor="middle" font-family="Liberation Mono" font-weight="bold" font-size="15.6" stroke="#000" stroke-width="0.35">6</text><rect x="816.41" y="769.90" width="6.8" height="1.9" fill="#000"/><text x="976.26" y="775.2" transform="scale(0.85,1)" text-anchor="middle" font-family="Liberation Mono" font-weight="bold" font-size="15.6" stroke="#000" stroke-width="0.35">7</text><text x="987.99" y="775.2" transform="scale(0.85,1)" text-anchor="middle" font-family="Liberation Mono" font-weight="bold" font-size="15.6" stroke="#000" stroke-width="0.35">8</text><text x="999.79" y="775.2" transform="scale(0.85,1)" text-anchor="middle" font-family="Liberation Mono" font-weight="bold" font-size="15.6" stroke="#000" stroke-width="0.35">9</text><text x="1011.51" y="775.2" transform="scale(0.85,1)" text-anchor="middle" font-family="Liberation Mono" font-weight="bold" font-size="15.6" stroke="#000" stroke-width="0.35">0</text>
<path d="M 800.1 806.1 L 808.8 806.1 L 808.8 814.6 L 814.2 814.6 L 804.4 827.7 L 795.1 814.6 L 800.1 814.6 Z" fill="#000"/>
<rect x="739.50" y="859.50" width="128.60" height="91.80" rx="8" fill="#fff" stroke="#000" stroke-width="2.2"/>
<g transform="translate(783.40,866.60)"><rect x="0" y="0" width="7.8" height="10.2" fill="#000"/><path d="M 2.3 2.4 L 4 2.4 C 5.6 2.6 5.8 4 5.8 5.1 C 5.8 6.4 5.5 7.6 4 7.8 L 2.3 7.8 Z" fill="none" stroke="#fff" stroke-width="1.1"/><path d="M 11.2 0.2 L 20.4 0.2 L 17.4 2.6 L 17.4 9.6 L 14.6 9.6 L 14.6 2.6 Z" fill="#000"/><rect x="19.2" y="5.6" width="2.6" height="4.0" fill="#000"/><rect x="22.8" y="3.4" width="2.2" height="6.2" fill="#000"/><rect x="26.3" y="0.4" width="2.9" height="9.2" fill="#000"/><path transform="translate(-12.20,-0.20) scale(0.490,0.537)" d="M 4.5 19 C 2 18.6 0.4 16 0.7 12.5 C 1.2 8.5 6 3 12 0.8 L 16.5 0.3 C 18.8 0.3 20 2.4 20 4 C 18.8 5.6 15.5 5.5 11.5 5.6 C 8.6 7 6.6 10 6.4 13 C 6.3 15.6 6.6 18.2 4.5 19 Z" fill="#000"/></g><g transform="translate(837.90,866.60)"><path d="M 3.5 0 L 25.100000000000023 0 L 25.100000000000023 8.899999999999977 L 3.5 8.899999999999977 L 1 6.699999999999977 C 0 5.899999999999977 0 3 1 2.2 Z" fill="#000"/><rect x="4.1" y="1.7" width="19.50" height="5.50" fill="#fff"/><path d="M 8.30 2.9 L 9.60 2.9 L 7.30 6.00 L 6.00 6.00 Z" fill="#000"/><path d="M 13.00 2.9 L 14.30 2.9 L 12.00 6.00 L 10.70 6.00 Z" fill="#000"/><path d="M 17.70 2.9 L 19.00 2.9 L 16.70 6.00 L 15.40 6.00 Z" fill="#000"/><path d="M 22.40 2.9 L 23.70 2.9 L 21.40 6.00 L 20.10 6.00 Z" fill="#000"/></g>
<text x="788.26" y="895.2" transform="scale(0.95,1)" text-anchor="middle" font-family="Liberation Mono" font-weight="bold" font-size="13.8" stroke="#000" stroke-width="0.35">T</text><text x="798.77" y="895.2" transform="scale(0.95,1)" text-anchor="middle" font-family="Liberation Mono" font-weight="bold" font-size="13.8" stroke="#000" stroke-width="0.35">i</text><text x="809.56" y="895.2" transform="scale(0.95,1)" text-anchor="middle" font-family="Liberation Mono" font-weight="bold" font-size="13.8" stroke="#000" stroke-width="0.35">m</text><text x="820.18" y="895.2" transform="scale(0.95,1)" text-anchor="middle" font-family="Liberation Mono" font-weight="bold" font-size="13.8" stroke="#000" stroke-width="0.35">e</text><text x="830.82" y="895.2" transform="scale(0.95,1)" text-anchor="middle" font-family="Liberation Mono" font-weight="bold" font-size="13.8" stroke="#000" stroke-width="0.35">:</text>
<text x="972.73" y="895.2" transform="scale(0.85,1)" text-anchor="middle" font-family="Liberation Mono" font-weight="bold" font-size="15.6" stroke="#000" stroke-width="0.35">0</text><text x="881.19" y="895.2" transform="scale(0.95,1)" text-anchor="middle" font-family="Liberation Mono" font-weight="bold" font-size="13.8" stroke="#000" stroke-width="0.35">:</text><text x="996.99" y="895.2" transform="scale(0.85,1)" text-anchor="middle" font-family="Liberation Mono" font-weight="bold" font-size="15.6" stroke="#000" stroke-width="0.35">0</text><text x="1008.92" y="895.2" transform="scale(0.85,1)" text-anchor="middle" font-family="Liberation Mono" font-weight="bold" font-size="15.6" stroke="#000" stroke-width="0.35">1</text>
<text x="879.63" y="942.9" transform="scale(0.85,1)" text-anchor="middle" font-family="Liberation Mono" font-weight="bold" font-size="15.6" stroke="#000" stroke-width="0.35">1</text><text x="891.57" y="942.9" transform="scale(0.85,1)" text-anchor="middle" font-family="Liberation Mono" font-weight="bold" font-size="15.6" stroke="#000" stroke-width="0.35">2</text><text x="903.38" y="942.9" transform="scale(0.85,1)" text-anchor="middle" font-family="Liberation Mono" font-weight="bold" font-size="15.6" stroke="#000" stroke-width="0.35">3</text><rect x="774.43" y="937.60" width="6.8" height="1.9" fill="#000"/><text x="926.82" y="942.9" transform="scale(0.85,1)" text-anchor="middle" font-family="Liberation Mono" font-weight="bold" font-size="15.6" stroke="#000" stroke-width="0.35">4</text><text x="938.62" y="942.9" transform="scale(0.85,1)" text-anchor="middle" font-family="Liberation Mono" font-weight="bold" font-size="15.6" stroke="#000" stroke-width="0.35">5</text><text x="950.33" y="942.9" transform="scale(0.85,1)" text-anchor="middle" font-family="Liberation Mono" font-weight="bold" font-size="15.6" stroke="#000" stroke-width="0.35">6</text><rect x="814.41" y="937.60" width="6.8" height="1.9" fill="#000"/><text x="973.91" y="942.9" transform="scale(0.85,1)" text-anchor="middle" font-family="Liberation Mono" font-weight="bold" font-size="15.6" stroke="#000" stroke-width="0.35">7</text><text x="985.64" y="942.9" transform="scale(0.85,1)" text-anchor="middle" font-family="Liberation Mono" font-weight="bold" font-size="15.6" stroke="#000" stroke-width="0.35">8</text><text x="997.43" y="942.9" transform="scale(0.85,1)" text-anchor="middle" font-family="Liberation Mono" font-weight="bold" font-size="15.6" stroke="#000" stroke-width="0.35">9</text><text x="1009.16" y="942.9" transform="scale(0.85,1)" text-anchor="middle" font-family="Liberation Mono" font-weight="bold" font-size="15.6" stroke="#000" stroke-width="0.35">0</text>
<rect x="736.30" y="984.90" width="128.40" height="91.20" rx="8" fill="#fff" stroke="#000" stroke-width="2.2"/>
<g transform="translate(780.50,991.90)"><rect x="0" y="0" width="7.8" height="10.2" fill="#000"/><path d="M 2.3 2.4 L 4 2.4 C 5.6 2.6 5.8 4 5.8 5.1 C 5.8 6.4 5.5 7.6 4 7.8 L 2.3 7.8 Z" fill="none" stroke="#fff" stroke-width="1.1"/><path d="M 11.2 0.2 L 20.4 0.2 L 17.4 2.6 L 17.4 9.6 L 14.6 9.6 L 14.6 2.6 Z" fill="#000"/><rect x="19.2" y="5.6" width="2.6" height="4.0" fill="#000"/><rect x="22.8" y="3.4" width="2.2" height="6.2" fill="#000"/><rect x="26.3" y="0.4" width="2.9" height="9.2" fill="#000"/></g><g transform="translate(835.20,992.60)"><path d="M 3.5 0 L 24.799999999999955 0 L 24.799999999999955 8.0 L 3.5 8.0 L 1 5.8 C 0 5.0 0 3 1 2.2 Z" fill="#000"/><rect x="4.1" y="1.7" width="19.20" height="4.60" fill="#fff"/><path d="M 8.30 2.9 L 9.60 2.9 L 7.30 5.10 L 6.00 5.10 Z" fill="#000"/><path d="M 13.00 2.9 L 14.30 2.9 L 12.00 5.10 L 10.70 5.10 Z" fill="#000"/><path d="M 17.70 2.9 L 19.00 2.9 L 16.70 5.10 L 15.40 5.10 Z" fill="#000"/><path d="M 22.40 2.9 L 23.70 2.9 L 21.40 5.10 L 20.10 5.10 Z" fill="#000"/></g>
<path d="M740.5 1001.5 l1.6 0 l1.4 5 l-1.6 0 zM742.8 1024.3 l1.6 0 l-1.2 5.4 l-1.6 0 zM748.7 1001.1 l-0.4 5.5 h1.7 l0.4 -5.5 zM749.3 1024.3 l-0.4 5.4 h1.7 l0.4 -5.4 zM756.1 1001.1 l-0.4 5.5 h1.7 l0.4 -5.5 zM756.7 1024.3 l-0.4 5.4 h1.7 l0.4 -5.4 zM763.5 1001.1 l-0.4 5.5 h1.7 l0.4 -5.5 zM764.1 1024.3 l-0.4 5.4 h1.7 l0.4 -5.4 zM770.9 1001.1 l-0.4 5.5 h1.7 l0.4 -5.5 zM771.5 1024.3 l-0.4 5.4 h1.7 l0.4 -5.4 zM778.3 1001.1 l-0.4 5.5 h1.7 l0.4 -5.5 zM778.9 1024.3 l-0.4 5.4 h1.7 l0.4 -5.4 zM785.7 1001.1 l-0.4 5.5 h1.7 l0.4 -5.5 zM786.3 1024.3 l-0.4 5.4 h1.7 l0.4 -5.4 zM793.1 1001.1 l-0.4 5.5 h1.7 l0.4 -5.5 zM793.7 1024.3 l-0.4 5.4 h1.7 l0.4 -5.4 zM800.5 1001.1 l-0.4 5.5 h1.7 l0.4 -5.5 zM801.1 1024.3 l-0.4 5.4 h1.7 l0.4 -5.4 zM807.9 1001.1 l-0.4 5.5 h1.7 l0.4 -5.5 zM808.5 1024.3 l-0.4 5.4 h1.7 l0.4 -5.4 zM815.3 1001.1 l-0.4 5.5 h1.7 l0.4 -5.5 zM815.9 1024.3 l-0.4 5.4 h1.7 l0.4 -5.4 zM822.7 1001.1 l-0.4 5.5 h1.7 l0.4 -5.5 zM823.3 1024.3 l-0.4 5.4 h1.7 l0.4 -5.4 zM830.1 1001.1 l-0.4 5.5 h1.7 l0.4 -5.5 zM830.7 1024.3 l-0.4 5.4 h1.7 l0.4 -5.4 zM837.5 1001.1 l-0.4 5.5 h1.7 l0.4 -5.5 zM838.1 1024.3 l-0.4 5.4 h1.7 l0.4 -5.4 zM844.9 1001.1 l-0.4 5.5 h1.7 l0.4 -5.5 zM845.5 1024.3 l-0.4 5.4 h1.7 l0.4 -5.4 zM852.3 1001.1 l-0.4 5.5 h1.7 l0.4 -5.5 zM852.9 1024.3 l-0.4 5.4 h1.7 l0.4 -5.4 zM860.2 1001.5 l1.6 0 l-1.6 5 l-1.6 0 zM859.2 1024.3 l1.6 0 l1.8 4.4 l-1.6 0 z" fill="#000"/>
<path d="M 735 1008 L 736.5 1012 M 731 1016.3 L 737 1016.3 M 735 1024.3 L 736.5 1020.5 M 860.5 1010 L 863 1011.5 M 860.5 1016.5 L 865 1016.5 M 860.5 1022 L 863 1020.5" stroke="#000" stroke-width="1.6"/>
<text x="784.57" y="1020.3" transform="scale(0.95,1)" text-anchor="middle" font-family="Liberation Mono" font-weight="bold" font-size="13.8" stroke="#000" stroke-width="0.35">T</text><text x="795.35" y="1020.3" transform="scale(0.95,1)" text-anchor="middle" font-family="Liberation Mono" font-weight="bold" font-size="13.8" stroke="#000" stroke-width="0.35">i</text><text x="806.40" y="1020.3" transform="scale(0.95,1)" text-anchor="middle" font-family="Liberation Mono" font-weight="bold" font-size="13.8" stroke="#000" stroke-width="0.35">m</text><text x="817.28" y="1020.3" transform="scale(0.95,1)" text-anchor="middle" font-family="Liberation Mono" font-weight="bold" font-size="13.8" stroke="#000" stroke-width="0.35">e</text><text x="828.18" y="1020.3" transform="scale(0.95,1)" text-anchor="middle" font-family="Liberation Mono" font-weight="bold" font-size="13.8" stroke="#000" stroke-width="0.35">:</text>
<text x="970.69" y="1020.3" transform="scale(0.85,1)" text-anchor="middle" font-family="Liberation Mono" font-weight="bold" font-size="15.6" stroke="#000" stroke-width="0.35">1</text><text x="878.68" y="1020.3" transform="scale(0.95,1)" text-anchor="middle" font-family="Liberation Mono" font-weight="bold" font-size="13.8" stroke="#000" stroke-width="0.35">:</text><text x="993.22" y="1020.3" transform="scale(0.85,1)" text-anchor="middle" font-family="Liberation Mono" font-weight="bold" font-size="15.6" stroke="#000" stroke-width="0.35">2</text><text x="1004.22" y="1020.3" transform="scale(0.85,1)" text-anchor="middle" font-family="Liberation Mono" font-weight="bold" font-size="15.6" stroke="#000" stroke-width="0.35">1</text>
<path d="M 795.8 1089.1 L 804.1 1089.1 L 804.1 1098.3 L 809.8 1098.3 L 800.2 1111.5 L 790.7 1098.3 L 795.8 1098.3 Z" fill="#000"/>
<rect x="736.10" y="1123.10" width="129.00" height="91.20" rx="8" fill="#fff" stroke="#000" stroke-width="2.2"/>
<g transform="translate(780.20,1129.80)"><rect x="0" y="0" width="7.8" height="10.2" fill="#000"/><path d="M 2.3 2.4 L 4 2.4 C 5.6 2.6 5.8 4 5.8 5.1 C 5.8 6.4 5.5 7.6 4 7.8 L 2.3 7.8 Z" fill="none" stroke="#fff" stroke-width="1.1"/><path d="M 11.2 0.2 L 20.4 0.2 L 17.4 2.6 L 17.4 9.6 L 14.6 9.6 L 14.6 2.6 Z" fill="#000"/><rect x="19.2" y="5.6" width="2.6" height="4.0" fill="#000"/><rect x="22.8" y="3.4" width="2.2" height="6.2" fill="#000"/><rect x="26.3" y="0.4" width="2.9" height="9.2" fill="#000"/></g><g transform="translate(835.20,1130.00)"><path d="M 3.5 0 L 24.699999999999932 0 L 24.699999999999932 9 L 3.5 9 L 1 6.8 C 0 6 0 3 1 2.2 Z" fill="#000"/><rect x="4.1" y="1.7" width="19.10" height="5.60" fill="#fff"/><path d="M 8.30 2.9 L 9.60 2.9 L 7.30 6.10 L 6.00 6.10 Z" fill="#000"/><path d="M 13.00 2.9 L 14.30 2.9 L 12.00 6.10 L 10.70 6.10 Z" fill="#000"/><path d="M 17.70 2.9 L 19.00 2.9 L 16.70 6.10 L 15.40 6.10 Z" fill="#000"/><path d="M 22.40 2.9 L 23.70 2.9 L 21.40 6.10 L 20.10 6.10 Z" fill="#000"/></g>
<text x="783.89" y="1158.7" transform="scale(0.95,1)" text-anchor="middle" font-family="Liberation Mono" font-weight="bold" font-size="13.8" stroke="#000" stroke-width="0.35">M</text><text x="794.43" y="1158.7" transform="scale(0.95,1)" text-anchor="middle" font-family="Liberation Mono" font-weight="bold" font-size="13.8" stroke="#000" stroke-width="0.35">y</text><text x="815.31" y="1158.7" transform="scale(0.95,1)" text-anchor="middle" font-family="Liberation Mono" font-weight="bold" font-size="13.8" stroke="#000" stroke-width="0.35">P</text><text x="825.94" y="1158.7" transform="scale(0.95,1)" text-anchor="middle" font-family="Liberation Mono" font-weight="bold" font-size="13.8" stroke="#000" stroke-width="0.35">h</text><text x="836.53" y="1158.7" transform="scale(0.95,1)" text-anchor="middle" font-family="Liberation Mono" font-weight="bold" font-size="13.8" stroke="#000" stroke-width="0.35">o</text><text x="847.02" y="1158.7" transform="scale(0.95,1)" text-anchor="middle" font-family="Liberation Mono" font-weight="bold" font-size="13.8" stroke="#000" stroke-width="0.35">n</text><text x="857.59" y="1158.7" transform="scale(0.95,1)" text-anchor="middle" font-family="Liberation Mono" font-weight="bold" font-size="13.8" stroke="#000" stroke-width="0.35">e</text>
<text x="877.04" y="1174.7" transform="scale(0.85,1)" text-anchor="middle" font-family="Liberation Mono" font-weight="bold" font-size="15.6" stroke="#000" stroke-width="0.35">1</text><text x="888.91" y="1174.7" transform="scale(0.85,1)" text-anchor="middle" font-family="Liberation Mono" font-weight="bold" font-size="15.6" stroke="#000" stroke-width="0.35">2</text><text x="805.80" y="1174.7" transform="scale(0.95,1)" text-anchor="middle" font-family="Liberation Mono" font-weight="bold" font-size="13.8" stroke="#000" stroke-width="0.35">:</text><text x="912.33" y="1174.7" transform="scale(0.85,1)" text-anchor="middle" font-family="Liberation Mono" font-weight="bold" font-size="15.6" stroke="#000" stroke-width="0.35">3</text><text x="923.94" y="1174.7" transform="scale(0.85,1)" text-anchor="middle" font-family="Liberation Mono" font-weight="bold" font-size="15.6" stroke="#000" stroke-width="0.35">4</text><text x="837.00" y="1174.7" transform="scale(0.95,1)" text-anchor="middle" font-family="Liberation Mono" font-weight="bold" font-size="13.8" stroke="#000" stroke-width="0.35">P</text><text x="958.83" y="1174.7" transform="scale(0.85,1)" text-anchor="middle" font-family="Liberation Mono" font-weight="bold" font-size="15.6" stroke="#000" stroke-width="0.35">1</text><text x="970.70" y="1174.7" transform="scale(0.85,1)" text-anchor="middle" font-family="Liberation Mono" font-weight="bold" font-size="15.6" stroke="#000" stroke-width="0.35">2</text><text x="878.99" y="1174.7" transform="scale(0.95,1)" text-anchor="middle" font-family="Liberation Mono" font-weight="bold" font-size="13.8" stroke="#000" stroke-width="0.35">/</text><text x="994.07" y="1174.7" transform="scale(0.85,1)" text-anchor="middle" font-family="Liberation Mono" font-weight="bold" font-size="15.6" stroke="#000" stroke-width="0.35">2</text><text x="1005.77" y="1174.7" transform="scale(0.85,1)" text-anchor="middle" font-family="Liberation Mono" font-weight="bold" font-size="15.6" stroke="#000" stroke-width="0.35">5</text>
<path d="M 746 1181.5 C 741.5 1183.5 741.5 1189 745 1190.5 L 747.5 1190.5 M 757.5 1181.8 L 754.5 1182 C 751.5 1184 751 1189 754.5 1190.5" fill="none" stroke="#000" stroke-width="1.9"/>
<text x="804.34" y="1190.3" transform="scale(0.95,1)" text-anchor="middle" font-family="Liberation Mono" font-weight="bold" font-size="13.8" stroke="#000" stroke-width="0.35">:</text><text x="813.96" y="1190.3" transform="scale(0.95,1)" text-anchor="middle" font-family="Liberation Mono" font-weight="bold" font-size="13.8" stroke="#000" stroke-width="0.35">P</text><text x="823.86" y="1190.3" transform="scale(0.95,1)" text-anchor="middle" font-family="Liberation Mono" font-weight="bold" font-size="13.8" stroke="#000" stroke-width="0.35">h</text><text x="833.70" y="1190.3" transform="scale(0.95,1)" text-anchor="middle" font-family="Liberation Mono" font-weight="bold" font-size="13.8" stroke="#000" stroke-width="0.35">o</text><text x="843.46" y="1190.3" transform="scale(0.95,1)" text-anchor="middle" font-family="Liberation Mono" font-weight="bold" font-size="13.8" stroke="#000" stroke-width="0.35">n</text><text x="853.28" y="1190.3" transform="scale(0.95,1)" text-anchor="middle" font-family="Liberation Mono" font-weight="bold" font-size="13.8" stroke="#000" stroke-width="0.35">e</text><text x="872.50" y="1190.3" transform="scale(0.95,1)" text-anchor="middle" font-family="Liberation Mono" font-weight="bold" font-size="13.8" stroke="#000" stroke-width="0.35">L</text><text x="882.52" y="1190.3" transform="scale(0.95,1)" text-anchor="middle" font-family="Liberation Mono" font-weight="bold" font-size="13.8" stroke="#000" stroke-width="0.35">i</text><text x="892.44" y="1190.3" transform="scale(0.95,1)" text-anchor="middle" font-family="Liberation Mono" font-weight="bold" font-size="13.8" stroke="#000" stroke-width="0.35">s</text><text x="902.32" y="1190.3" transform="scale(0.95,1)" text-anchor="middle" font-family="Liberation Mono" font-weight="bold" font-size="13.8" stroke="#000" stroke-width="0.35">t</text>
<g transform="translate(742.30,1207.20)"><path d="M 0 -8.2 H 5.5 M 0 -4.4 H 5.5" stroke="#000" stroke-width="1.9" fill="none"/><path d="M 4.2 -11 L 8.3 -6.3 L 4.2 -1.6" stroke="#000" stroke-width="2.2" fill="none"/><path d="M 4.6 -10.5 L 2.6 -0.5" stroke="#000" stroke-width="1.3" fill="none"/></g>
<text x="793.92" y="1206" transform="scale(0.95,1)" text-anchor="middle" font-family="Liberation Mono" font-weight="bold" font-size="13.8" stroke="#000" stroke-width="0.35">:</text><text x="804.38" y="1206" transform="scale(0.95,1)" text-anchor="middle" font-family="Liberation Mono" font-weight="bold" font-size="13.8" stroke="#000" stroke-width="0.35">F</text><text x="815.14" y="1206" transform="scale(0.95,1)" text-anchor="middle" font-family="Liberation Mono" font-weight="bold" font-size="13.8" stroke="#000" stroke-width="0.35">e</text><text x="825.56" y="1206" transform="scale(0.95,1)" text-anchor="middle" font-family="Liberation Mono" font-weight="bold" font-size="13.8" stroke="#000" stroke-width="0.35">a</text><text x="836.47" y="1206" transform="scale(0.95,1)" text-anchor="middle" font-family="Liberation Mono" font-weight="bold" font-size="13.8" stroke="#000" stroke-width="0.35">t</text><text x="847.00" y="1206" transform="scale(0.95,1)" text-anchor="middle" font-family="Liberation Mono" font-weight="bold" font-size="13.8" stroke="#000" stroke-width="0.35">u</text><text x="857.41" y="1206" transform="scale(0.95,1)" text-anchor="middle" font-family="Liberation Mono" font-weight="bold" font-size="13.8" stroke="#000" stroke-width="0.35">r</text><text x="868.18" y="1206" transform="scale(0.95,1)" text-anchor="middle" font-family="Liberation Mono" font-weight="bold" font-size="13.8" stroke="#000" stroke-width="0.35">e</text><text x="878.81" y="1206" transform="scale(0.95,1)" text-anchor="middle" font-family="Liberation Mono" font-weight="bold" font-size="13.8" stroke="#000" stroke-width="0.35">s</text>
<text x="159.41" y="1303.00" font-family="Liberation Sans" font-weight="bold" font-size="24.7" textLength="26.24" lengthAdjust="spacingAndGlyphs" >16</text>
<text x="115.50" y="1375.00" font-family="Liberation Sans" font-weight="bold" font-size="13" textLength="144.84" lengthAdjust="spacingAndGlyphs" >CM-Z100SPR/16-19draft1</text>
<text x="381.72" y="1375.50" font-family="Liberation Sans" font-weight="bold" font-size="13" textLength="13.72" lengthAdjust="spacingAndGlyphs" >16</text>
<text x="646.76" y="1374.00" font-family="Liberation Sans" font-weight="bold" font-size="13" textLength="97.49" lengthAdjust="spacingAndGlyphs" >7/18/97, 9:31 AM</text>
</svg></body></html>
